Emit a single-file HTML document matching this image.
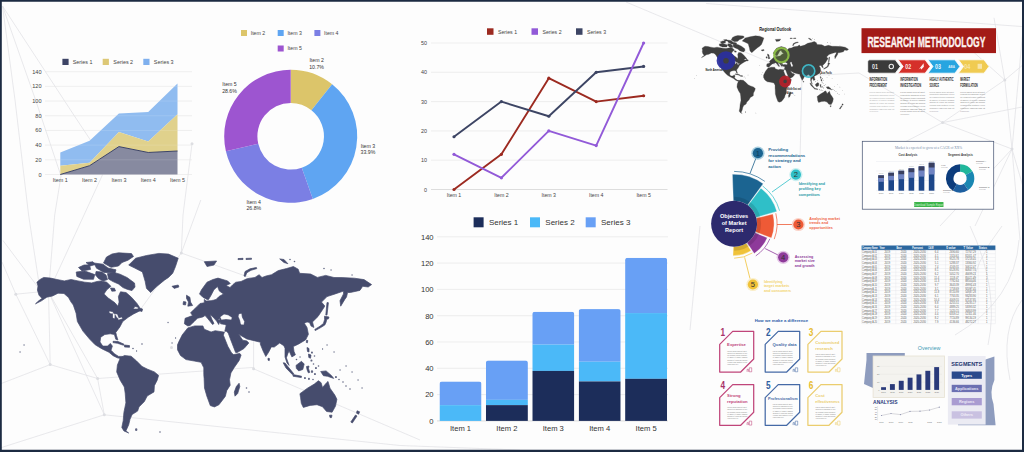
<!DOCTYPE html>
<html><head><meta charset="utf-8"><title>Charts</title>
<style>
html,body{margin:0;padding:0;background:#fdfdfd;}
body{width:1024px;height:452px;overflow:hidden;position:relative;font-family:"Liberation Sans",sans-serif;}
svg{position:absolute;left:0;top:0;display:block}
text{font-family:"Liberation Sans",sans-serif;}
</style></head><body>
<svg width="1024" height="452" viewBox="0 0 1024 452">
<rect x="0" y="0" width="1024" height="452" fill="#fdfdfd"/>
<g id="bg"><g fill="none" stroke="#dfe0e4" stroke-width="0.7"><line x1="2.5" y1="6" x2="73.8" y2="115"/><line x1="73.8" y1="115" x2="107" y2="165"/><line x1="107" y1="165" x2="84" y2="215"/><line x1="84" y1="215" x2="48.5" y2="292"/><line x1="2.5" y1="6" x2="35.6" y2="100"/><line x1="35.6" y1="100" x2="61" y2="176"/><line x1="61" y1="176" x2="54.7" y2="215"/><line x1="54.7" y1="215" x2="48.5" y2="292"/><line x1="2.5" y1="6" x2="15" y2="100"/><line x1="15" y1="100" x2="28.6" y2="215"/><line x1="28.6" y1="215" x2="40" y2="290"/><line x1="2.9" y1="240.4" x2="37.4" y2="286.4"/><line x1="15.8" y1="294.2" x2="38" y2="292"/><line x1="192" y1="143.8" x2="183" y2="215"/><line x1="183" y1="215" x2="181.3" y2="253"/><line x1="48.5" y1="292" x2="50.2" y2="364.6"/><line x1="48.5" y1="292" x2="97.6" y2="378.5"/><line x1="48.5" y1="292" x2="104.3" y2="414.8"/><line x1="15.8" y1="294.2" x2="50.2" y2="364.6"/><line x1="15.8" y1="294.2" x2="2" y2="262"/><line x1="50.2" y1="364.6" x2="97.6" y2="378.5"/><line x1="50.2" y1="364.6" x2="0" y2="384"/><line x1="97.6" y1="378.5" x2="104.3" y2="414.8"/><line x1="104.3" y1="414.8" x2="0" y2="448"/><line x1="104.3" y1="414.8" x2="400" y2="445.5"/><line x1="400" y1="445.5" x2="520" y2="450"/><line x1="97.6" y1="378.5" x2="253.8" y2="367.4"/><line x1="253.6" y1="330" x2="253.6" y2="368.8"/><line x1="253.6" y1="368.8" x2="420" y2="440"/><line x1="181.3" y1="253" x2="200.8" y2="200"/><line x1="181.3" y1="253" x2="290" y2="292"/><line x1="181.3" y1="253" x2="140" y2="310"/><line x1="626" y1="2" x2="802" y2="76"/><line x1="802" y1="76" x2="859" y2="73"/><line x1="802" y1="76" x2="800" y2="160"/><line x1="706" y1="3.5" x2="1024" y2="26.7"/><line x1="942.6" y1="122.6" x2="1024" y2="106.6"/><line x1="942.6" y1="122.6" x2="859" y2="73"/><line x1="942.6" y1="122.6" x2="1012" y2="149"/><line x1="942.6" y1="122.6" x2="870" y2="160"/><line x1="1004.8" y1="80" x2="1024" y2="64"/><line x1="1004.8" y1="80" x2="942.6" y2="122.6"/><line x1="1004.8" y1="80" x2="1012" y2="149"/><line x1="1004.8" y1="80" x2="994" y2="17.8"/><line x1="1004.8" y1="80" x2="960" y2="40"/><line x1="1012" y1="149" x2="1024" y2="17.8"/><line x1="1012" y1="149" x2="940" y2="226"/><line x1="1012" y1="149" x2="1020" y2="240"/><line x1="1012" y1="149" x2="975" y2="226"/><line x1="1012" y1="149" x2="1024" y2="190"/><line x1="700" y1="226" x2="690" y2="330"/><path d="M970,226 Q1000,290 988,345"/><path d="M1002,226 Q975,260 968,300"/><path d="M1019,240 Q1015,300 955,335"/><path d="M1022,300 Q1000,330 1010,380"/></g><g fill="#dddee2"><circle cx="107" cy="165" r="1.5"/><circle cx="192" cy="143.8" r="1.5"/><circle cx="15.8" cy="294.2" r="1.5"/><circle cx="50.2" cy="364.6" r="1.5"/><circle cx="97.6" cy="378.5" r="1.5"/><circle cx="104.3" cy="414.8" r="1.5"/><circle cx="253.6" cy="368.8" r="1.5"/><circle cx="181.3" cy="253" r="1.5"/><circle cx="802" cy="76" r="1.5"/><circle cx="942.6" cy="122.6" r="1.5"/><circle cx="1004.8" cy="80" r="1.5"/><circle cx="1012" cy="149" r="1.5"/><circle cx="171.5" cy="347.5" r="1.5"/></g></g>
<g id="area"><line x1="45" x2="192" y1="174.50" y2="174.50" stroke="#e6e6e6" stroke-width="0.6"/>
<text x="41.5" y="176.50" text-anchor="end" font-size="5.6" fill="#444">0</text>
<line x1="45" x2="192" y1="159.81" y2="159.81" stroke="#e6e6e6" stroke-width="0.6"/>
<text x="41.5" y="161.81" text-anchor="end" font-size="5.6" fill="#444">20</text>
<line x1="45" x2="192" y1="145.13" y2="145.13" stroke="#e6e6e6" stroke-width="0.6"/>
<text x="41.5" y="147.13" text-anchor="end" font-size="5.6" fill="#444">40</text>
<line x1="45" x2="192" y1="130.44" y2="130.44" stroke="#e6e6e6" stroke-width="0.6"/>
<text x="41.5" y="132.44" text-anchor="end" font-size="5.6" fill="#444">60</text>
<line x1="45" x2="192" y1="115.76" y2="115.76" stroke="#e6e6e6" stroke-width="0.6"/>
<text x="41.5" y="117.76" text-anchor="end" font-size="5.6" fill="#444">80</text>
<line x1="45" x2="192" y1="101.07" y2="101.07" stroke="#e6e6e6" stroke-width="0.6"/>
<text x="41.5" y="103.07" text-anchor="end" font-size="5.6" fill="#444">100</text>
<line x1="45" x2="192" y1="86.39" y2="86.39" stroke="#e6e6e6" stroke-width="0.6"/>
<text x="41.5" y="88.39" text-anchor="end" font-size="5.6" fill="#444">120</text>
<line x1="45" x2="192" y1="71.70" y2="71.70" stroke="#e6e6e6" stroke-width="0.6"/>
<text x="41.5" y="73.70" text-anchor="end" font-size="5.6" fill="#444">140</text>
<polygon points="60.30,152.47 89.60,140.72 118.90,113.55 148.20,112.09 177.50,83.45 177.50,114.29 148.20,141.46 118.90,131.91 89.60,162.75 60.30,165.69" fill="#90bcf0"/>
<polygon points="60.30,165.69 89.60,162.75 118.90,131.91 148.20,141.46 177.50,114.29 177.50,151.00 148.20,152.47 118.90,146.60 89.60,165.69 60.30,174.50" fill="#e0d18c"/>
<polygon points="60.30,174.50 89.60,165.69 118.90,146.60 148.20,152.47 177.50,151.00 177.50,174.50 148.20,174.50 118.90,174.50 89.60,174.50 60.30,174.50" fill="#878aa0"/>
<polyline points="60.30,174.50 89.60,165.69 118.90,146.60 148.20,152.47 177.50,151.00" fill="none" stroke="#3d4466" stroke-width="1"/>
<line x1="60.30" x2="177.50" y1="159.81" y2="159.81" stroke="#ffffff" stroke-opacity="0.22" stroke-width="0.6"/>
<line x1="60.30" x2="177.50" y1="145.13" y2="145.13" stroke="#ffffff" stroke-opacity="0.22" stroke-width="0.6"/>
<line x1="60.30" x2="177.50" y1="130.44" y2="130.44" stroke="#ffffff" stroke-opacity="0.22" stroke-width="0.6"/>
<line x1="60.30" x2="177.50" y1="115.76" y2="115.76" stroke="#ffffff" stroke-opacity="0.22" stroke-width="0.6"/>
<line x1="60.30" x2="177.50" y1="101.07" y2="101.07" stroke="#ffffff" stroke-opacity="0.22" stroke-width="0.6"/>
<line x1="60.30" x2="177.50" y1="86.39" y2="86.39" stroke="#ffffff" stroke-opacity="0.22" stroke-width="0.6"/>
<text x="60.30" y="182" text-anchor="middle" font-size="5.4" fill="#444">Item 1</text>
<text x="89.60" y="182" text-anchor="middle" font-size="5.4" fill="#444">Item 2</text>
<text x="118.90" y="182" text-anchor="middle" font-size="5.4" fill="#444">Item 3</text>
<text x="148.20" y="182" text-anchor="middle" font-size="5.4" fill="#444">Item 4</text>
<text x="177.50" y="182" text-anchor="middle" font-size="5.4" fill="#444">Item 5</text>
<rect x="62.4" y="58.8" width="6.2" height="6.2" fill="#3d4466"/>
<text x="72.7" y="63.8" font-size="5.4" fill="#444">Series 1</text>
<rect x="102.7" y="58.8" width="6.2" height="6.2" fill="#ddc876"/>
<text x="113.3" y="63.8" font-size="5.4" fill="#444">Series 2</text>
<rect x="143.3" y="58.8" width="6.2" height="6.2" fill="#7fb0ee"/>
<text x="153.8" y="63.8" font-size="5.4" fill="#444">Series 3</text></g>
<g id="donut"><path d="M290.70,69.80 A66.5,66.5 0 0 1 332.12,84.27 L311.44,110.25 A33.3,33.3 0 0 0 290.70,103.00 Z" fill="#dcc56a"/>
<path d="M332.12,84.27 A66.5,66.5 0 0 1 312.83,199.01 L301.78,167.70 A33.3,33.3 0 0 0 311.44,110.25 Z" fill="#5fa5f2"/>
<path d="M312.83,199.01 A66.5,66.5 0 0 1 225.89,151.21 L258.25,143.77 A33.3,33.3 0 0 0 301.78,167.70 Z" fill="#7b7fe4"/>
<path d="M225.89,151.21 A66.5,66.5 0 0 1 290.70,69.80 L290.70,103.00 A33.3,33.3 0 0 0 258.25,143.77 Z" fill="#9d55d0"/>
<rect x="241" y="30" width="6" height="6" fill="#dcc56a"/>
<text x="250.7" y="34.9" font-size="5.2" fill="#444">Item 2</text>
<rect x="277.7" y="30" width="6" height="6" fill="#5fa5f2"/>
<text x="287.4" y="34.9" font-size="5.2" fill="#444">Item 3</text>
<rect x="314.4" y="30" width="6" height="6" fill="#7b7fe4"/>
<text x="324.09999999999997" y="34.9" font-size="5.2" fill="#444">Item 4</text>
<rect x="277.7" y="45.5" width="6" height="6" fill="#9d55d0"/>
<text x="287.4" y="50.4" font-size="5.2" fill="#444">Item 5</text>
<text x="316.6" y="62.3" text-anchor="middle" font-size="5.2" fill="#333">Item 2</text>
<text x="316.6" y="68.8" text-anchor="middle" font-size="5.2" fill="#333">10.7%</text>
<text x="367.9" y="147.8" text-anchor="middle" font-size="5.2" fill="#333">Item 3</text>
<text x="367.9" y="154.3" text-anchor="middle" font-size="5.2" fill="#333">33.9%</text>
<text x="253.8" y="203.5" text-anchor="middle" font-size="5.2" fill="#333">Item 4</text>
<text x="253.8" y="210.0" text-anchor="middle" font-size="5.2" fill="#333">26.8%</text>
<text x="229.5" y="86.3" text-anchor="middle" font-size="5.2" fill="#333">Item 5</text>
<text x="229.5" y="92.8" text-anchor="middle" font-size="5.2" fill="#333">28.6%</text></g>
<g id="line"><line x1="431" x2="667.5" y1="189.50" y2="189.50" stroke="#cfcfcf" stroke-width="0.7"/>
<text x="427" y="191.50" text-anchor="end" font-size="5.4" fill="#444">0</text>
<line x1="431" x2="667.5" y1="160.20" y2="160.20" stroke="#e8e8e8" stroke-width="0.7"/>
<text x="427" y="162.20" text-anchor="end" font-size="5.4" fill="#444">10</text>
<line x1="431" x2="667.5" y1="130.90" y2="130.90" stroke="#e8e8e8" stroke-width="0.7"/>
<text x="427" y="132.90" text-anchor="end" font-size="5.4" fill="#444">20</text>
<line x1="431" x2="667.5" y1="101.60" y2="101.60" stroke="#e8e8e8" stroke-width="0.7"/>
<text x="427" y="103.60" text-anchor="end" font-size="5.4" fill="#444">30</text>
<line x1="431" x2="667.5" y1="72.30" y2="72.30" stroke="#e8e8e8" stroke-width="0.7"/>
<text x="427" y="74.30" text-anchor="end" font-size="5.4" fill="#444">40</text>
<line x1="431" x2="667.5" y1="43.00" y2="43.00" stroke="#e8e8e8" stroke-width="0.7"/>
<text x="427" y="45.00" text-anchor="end" font-size="5.4" fill="#444">50</text>
<text x="454.00" y="197" text-anchor="middle" font-size="5.2" fill="#444">Item 1</text>
<text x="501.40" y="197" text-anchor="middle" font-size="5.2" fill="#444">Item 2</text>
<text x="548.80" y="197" text-anchor="middle" font-size="5.2" fill="#444">Item 3</text>
<text x="596.20" y="197" text-anchor="middle" font-size="5.2" fill="#444">Item 4</text>
<text x="643.60" y="197" text-anchor="middle" font-size="5.2" fill="#444">Item 5</text>
<polyline points="454.00,189.50 501.40,154.34 548.80,78.16 596.20,101.60 643.60,95.74" fill="none" stroke="#9c2a20" stroke-width="1.9" stroke-linejoin="round"/>
<circle cx="454.00" cy="189.50" r="1.6" fill="#9c2a20"/>
<circle cx="501.40" cy="154.34" r="1.6" fill="#9c2a20"/>
<circle cx="548.80" cy="78.16" r="1.6" fill="#9c2a20"/>
<circle cx="596.20" cy="101.60" r="1.6" fill="#9c2a20"/>
<circle cx="643.60" cy="95.74" r="1.6" fill="#9c2a20"/>
<polyline points="454.00,136.76 501.40,101.60 548.80,116.25 596.20,72.30 643.60,66.44" fill="none" stroke="#3d4564" stroke-width="1.9" stroke-linejoin="round"/>
<circle cx="454.00" cy="136.76" r="1.6" fill="#3d4564"/>
<circle cx="501.40" cy="101.60" r="1.6" fill="#3d4564"/>
<circle cx="548.80" cy="116.25" r="1.6" fill="#3d4564"/>
<circle cx="596.20" cy="72.30" r="1.6" fill="#3d4564"/>
<circle cx="643.60" cy="66.44" r="1.6" fill="#3d4564"/>
<polyline points="454.00,154.34 501.40,177.78 548.80,130.90 596.20,145.55 643.60,43.00" fill="none" stroke="#925ad8" stroke-width="1.9" stroke-linejoin="round"/>
<circle cx="454.00" cy="154.34" r="1.6" fill="#925ad8"/>
<circle cx="501.40" cy="177.78" r="1.6" fill="#925ad8"/>
<circle cx="548.80" cy="130.90" r="1.6" fill="#925ad8"/>
<circle cx="596.20" cy="145.55" r="1.6" fill="#925ad8"/>
<circle cx="643.60" cy="43.00" r="1.6" fill="#925ad8"/>
<rect x="487" y="28.3" width="6.5" height="6.5" fill="#9c2a20"/>
<text x="498" y="33.6" font-size="5.2" fill="#444">Series 1</text>
<rect x="531.5" y="28.3" width="6.5" height="6.5" fill="#925ad8"/>
<text x="542.5" y="33.6" font-size="5.2" fill="#444">Series 2</text>
<rect x="576" y="28.3" width="6.5" height="6.5" fill="#3d4564"/>
<text x="587" y="33.6" font-size="5.2" fill="#444">Series 3</text></g>
<g id="bar"><line x1="437" x2="668" y1="420.90" y2="420.90" stroke="#cfcfcf" stroke-width="0.7"/>
<text x="433.6" y="423.70" text-anchor="end" font-size="7.6" fill="#333">0</text>
<line x1="437" x2="668" y1="394.60" y2="394.60" stroke="#e6e6e6" stroke-width="0.7"/>
<text x="433.6" y="397.40" text-anchor="end" font-size="7.6" fill="#333">20</text>
<line x1="437" x2="668" y1="368.30" y2="368.30" stroke="#e6e6e6" stroke-width="0.7"/>
<text x="433.6" y="371.10" text-anchor="end" font-size="7.6" fill="#333">40</text>
<line x1="437" x2="668" y1="342.00" y2="342.00" stroke="#e6e6e6" stroke-width="0.7"/>
<text x="433.6" y="344.80" text-anchor="end" font-size="7.6" fill="#333">60</text>
<line x1="437" x2="668" y1="315.70" y2="315.70" stroke="#e6e6e6" stroke-width="0.7"/>
<text x="433.6" y="318.50" text-anchor="end" font-size="7.6" fill="#333">80</text>
<line x1="437" x2="668" y1="289.40" y2="289.40" stroke="#e6e6e6" stroke-width="0.7"/>
<text x="433.6" y="292.20" text-anchor="end" font-size="7.6" fill="#333">100</text>
<line x1="437" x2="668" y1="263.10" y2="263.10" stroke="#e6e6e6" stroke-width="0.7"/>
<text x="433.6" y="265.90" text-anchor="end" font-size="7.6" fill="#333">120</text>
<line x1="437" x2="668" y1="236.80" y2="236.80" stroke="#e6e6e6" stroke-width="0.7"/>
<text x="433.6" y="239.60" text-anchor="end" font-size="7.6" fill="#333">140</text>
<clipPath id="bc0"><rect x="439.5" y="381.45" width="42" height="44.45" rx="2.5"/></clipPath>
<g clip-path="url(#bc0)">
<rect x="439.5" y="381.45" width="42" height="23.67" fill="#68a0f5"/>
<rect x="439.5" y="405.12" width="42" height="15.78" fill="#4bb9f8"/>
<rect x="439.5" y="420.90" width="42" height="0.00" fill="#1c2d5a"/>
</g>
<text x="460.50" y="431" text-anchor="middle" font-size="7.6" fill="#333">Item 1</text>
<clipPath id="bc1"><rect x="485.9" y="360.41" width="42" height="65.49" rx="2.5"/></clipPath>
<g clip-path="url(#bc1)">
<rect x="485.9" y="360.41" width="42" height="39.45" fill="#68a0f5"/>
<rect x="485.9" y="399.86" width="42" height="5.26" fill="#4bb9f8"/>
<rect x="485.9" y="405.12" width="42" height="15.78" fill="#1c2d5a"/>
</g>
<text x="506.90" y="431" text-anchor="middle" font-size="7.6" fill="#333">Item 2</text>
<clipPath id="bc2"><rect x="532.3" y="311.75" width="42" height="114.14" rx="2.5"/></clipPath>
<g clip-path="url(#bc2)">
<rect x="532.3" y="311.75" width="42" height="32.88" fill="#68a0f5"/>
<rect x="532.3" y="344.63" width="42" height="26.30" fill="#4bb9f8"/>
<rect x="532.3" y="370.93" width="42" height="49.97" fill="#1c2d5a"/>
</g>
<text x="553.30" y="431" text-anchor="middle" font-size="7.6" fill="#333">Item 3</text>
<clipPath id="bc3"><rect x="578.7" y="309.12" width="42" height="116.77" rx="2.5"/></clipPath>
<g clip-path="url(#bc3)">
<rect x="578.7" y="309.12" width="42" height="52.60" fill="#68a0f5"/>
<rect x="578.7" y="361.72" width="42" height="19.73" fill="#4bb9f8"/>
<rect x="578.7" y="381.45" width="42" height="39.45" fill="#1c2d5a"/>
</g>
<text x="599.70" y="431" text-anchor="middle" font-size="7.6" fill="#333">Item 4</text>
<clipPath id="bc4"><rect x="625.1" y="257.84" width="42" height="168.06" rx="2.5"/></clipPath>
<g clip-path="url(#bc4)">
<rect x="625.1" y="257.84" width="42" height="55.23" fill="#68a0f5"/>
<rect x="625.1" y="313.07" width="42" height="65.75" fill="#4bb9f8"/>
<rect x="625.1" y="378.82" width="42" height="42.08" fill="#1c2d5a"/>
</g>
<text x="646.10" y="431" text-anchor="middle" font-size="7.6" fill="#333">Item 5</text>
<rect x="473.6" y="217.3" width="10" height="10" fill="#1c2d5a"/>
<text x="488.90000000000003" y="225.3" font-size="8" fill="#333">Series 1</text>
<rect x="530" y="217.3" width="10" height="10" fill="#4bb9f8"/>
<text x="545.3" y="225.3" font-size="8" fill="#333">Series 2</text>
<rect x="585.7" y="217.3" width="10" height="10" fill="#68a0f5"/>
<text x="601.0" y="225.3" font-size="8" fill="#333">Series 3</text></g>
<g color="#464c6d"><path d="M36.9,282.2 L40.0,279.5 L43.7,277.4 L50.6,278.1 L57.0,279.5 L64.3,280.9 L71.1,279.5 L78.0,280.9 L84.8,282.2 L91.7,282.9 L97.0,281.5 L101.3,280.9 L106.8,282.2 L110.9,286.3 L106.8,289.8 L104.0,293.9 L108.2,298.0 L115.0,302.8 L117.8,306.2 L119.1,302.1 L118.4,296.6 L120.5,291.8 L126.0,292.5 L131.5,297.3 L137.0,303.5 L139.7,307.6 L135.0,306.5 L133.0,309.0 L137.8,309.1 L140.5,310.5 L133.6,313.9 L128.2,317.3 L122.7,321.5 L119.9,326.9 L115.8,332.4 L116.5,335.5 L117.9,340.0 L115.8,339.3 L114.4,334.5 L110.3,333.8 L104.8,334.5 L100.7,337.2 L100.0,342.0 L102.8,346.1 L107.6,346.1 L110.3,343.4 L112.4,346.1 L111.0,350.2 L114.4,353.7 L118.6,356.4 L122.7,356.4 L120.5,358.5 L117.2,357.8 L113.1,355.7 L109.0,352.3 L102.1,348.9 L95.2,344.8 L89.8,339.3 L82.9,331.1 L77.4,321.5 L76.1,313.2 L73.3,305.0 L71.1,302.1 L68.5,297.5 L64.0,293.5 L58.0,293.2 L52.5,296.0 L46.8,297.2 L41.5,300.8 L35.5,303.8 L39.0,300.6 L42.0,298.4 L39.0,295.2 L37.4,290.0 L38.0,286.0ZM128.7,265.1 L135.6,258.2 L146.5,255.5 L158.9,253.4 L168.5,254.1 L178.2,258.2 L175.5,266.5 L172.7,273.3 L168.5,277.4 L164.4,280.2 L156.1,287.0 L150.7,292.5 L146.5,288.4 L145.2,281.5 L142.4,271.9 L134.2,267.8ZM107.5,273.6 L114.0,272.4 L120.0,274.2 L127.0,277.5 L134.5,283.0 L135.0,287.0 L132.0,290.6 L127.5,289.4 L123.0,287.6 L118.5,284.0 L113.0,281.6 L108.5,279.0ZM110.5,288.0 L114.5,288.3 L115.5,291.0 L111.8,291.2ZM96.0,271.5 L102.0,272.0 L106.0,275.0 L107.5,279.5 L103.0,281.0 L98.5,278.5 L95.5,275.0ZM86.0,262.5 L93.0,261.8 L95.5,264.5 L90.0,266.0ZM106.5,257.0 L112.0,254.0 L118.5,252.8 L131.5,253.6 L133.5,256.5 L128.0,260.2 L122.0,262.5 L118.5,266.0 L111.0,267.3 L103.5,263.0ZM76.2,272.0 L84.8,271.0 L94.8,274.6 L93.5,279.3 L83.5,279.2 L76.8,276.4ZM78.5,267.5 L84.0,265.0 L89.5,264.8 L90.6,269.4 L82.1,271.0ZM94.0,263.0 L103.0,264.2 L108.0,268.0 L116.0,269.8 L115.0,273.0 L104.0,272.4 L96.5,268.2ZM138.0,307.5 L142.5,309.0 L142.0,311.5 L138.5,310.5ZM113.1,341.3 L118.0,341.5 L124.0,344.2 L123.5,345.3 L117.5,343.3 L113.0,342.6ZM124.5,345.0 L129.5,345.6 L129.5,347.3 L124.5,347.0ZM120.2,358.2 L124.3,355.5 L131.1,356.2 L136.6,361.0 L142.1,366.5 L147.6,369.2 L154.4,371.9 L158.6,375.4 L157.2,380.2 L154.4,385.7 L154.0,391.9 L147.2,396.0 L144.4,401.5 L139.0,406.9 L137.6,411.1 L132.1,414.5 L130.0,419.3 L128.7,424.8 L125.9,430.9 L128.7,433.0 L123.9,430.9 L121.8,427.5 L123.2,420.7 L123.9,412.4 L125.9,402.8 L125.2,393.2 L124.3,387.0 L120.2,380.2 L116.7,371.9 L117.4,365.1ZM184.4,323.8 L185.1,318.3 L190.0,316.5 L192.6,315.6 L190.6,312.8 L193.3,310.1 L197.4,306.2 L200.0,303.5 L204.3,302.8 L204.3,299.4 L206.0,301.0 L211.1,300.7 L216.0,299.5 L219.0,296.5 L223.5,293.9 L219.4,291.1 L217.5,286.5 L213.9,289.8 L211.1,295.2 L208.5,299.6 L207.0,299.4 L202.9,297.3 L199.5,293.9 L201.5,289.8 L207.0,282.2 L213.0,279.5 L218.0,278.1 L227.6,280.9 L230.3,283.6 L226.0,285.5 L230.0,287.5 L233.0,284.5 L235.8,282.2 L241.0,281.5 L246.8,278.8 L255.0,277.4 L259.1,274.7 L262.0,277.5 L266.0,276.0 L271.5,274.7 L278.3,270.6 L286.6,268.5 L293.4,266.5 L298.2,269.2 L299.6,273.3 L310.6,274.0 L317.4,277.4 L325.7,275.4 L334.0,277.5 L342.1,277.6 L354.4,278.2 L364.0,279.6 L371.6,284.6 L368.2,287.0 L362.7,286.3 L359.9,290.4 L350.3,292.5 L347.6,292.5 L346.5,297.0 L344.8,299.4 L340.7,306.2 L340.0,300.7 L343.5,293.9 L343.5,291.1 L335.2,293.9 L327.0,296.6 L321.5,302.1 L324.8,306.0 L323.5,308.2 L318.0,316.5 L312.5,321.9 L313.9,327.4 L311.1,326.1 L309.5,322.5 L307.0,321.9 L304.3,323.3 L307.0,327.4 L308.4,334.3 L305.7,339.8 L298.8,343.9 L293.3,346.6 L294.0,351.4 L295.4,354.8 L291.9,356.9 L289.1,351.0 L287.8,353.7 L286.4,357.8 L289.1,365.4 L287.0,363.0 L285.0,357.0 L285.0,348.2 L283.8,345.7 L279.7,343.0 L274.2,347.1 L271.3,346.9 L268.6,352.3 L265.8,356.5 L263.1,351.0 L260.3,344.1 L260.5,342.3 L255.0,340.9 L246.8,338.9 L240.0,335.0 L238.6,334.1 L242.7,340.2 L246.8,340.9 L248.8,343.0 L244.0,348.5 L237.2,352.6 L235.6,352.4 L230.8,340.0 L228.2,333.0 L226.4,331.2 L224.8,331.3 L226.2,325.2 L224.8,324.5 L220.7,323.8 L219.4,320.4 L220.0,318.5 L218.0,319.5 L220.0,321.1 L218.7,324.5 L216.6,321.1 L213.0,317.0 L210.0,314.5 L212.0,319.5 L214.0,323.5 L212.5,324.5 L209.8,321.1 L206.5,317.0 L205.0,315.6 L202.9,316.9 L197.4,318.3 L194.0,321.7 L190.0,325.5 L187.8,325.9ZM187.8,327.9 L194.7,325.9 L202.9,325.9 L204.3,329.3 L211.1,332.0 L215.2,330.7 L223.5,332.0 L224.4,332.0 L223.4,335.2 L227.8,346.2 L231.6,353.0 L233.6,354.6 L239.8,353.4 L241.1,355.1 L239.1,360.6 L234.3,367.4 L230.9,372.9 L229.5,379.8 L230.2,385.2 L226.7,390.7 L225.4,396.2 L223.0,399.4 L218.9,404.8 L214.4,406.9 L210.3,405.6 L206.8,396.0 L204.5,388.0 L204.1,378.4 L203.8,374.7 L203.8,367.8 L201.1,362.3 L194.2,361.0 L186.0,359.6 L180.5,355.5 L177.5,349.8 L177.5,344.8 L178.9,341.6 L182.3,334.8ZM239.1,383.2 L239.8,386.6 L237.7,393.5 L235.0,396.2 L234.3,392.1 L236.3,386.6ZM299.9,393.7 L307.4,388.2 L314.3,384.1 L318.4,380.7 L321.1,382.7 L322.5,387.5 L326.6,382.7 L328.0,381.4 L330.0,388.2 L334.8,395.1 L336.9,399.2 L335.5,406.1 L332.1,412.2 L326.6,411.5 L322.5,406.7 L317.0,404.7 L310.2,405.4 L303.3,407.4 L301.3,403.3 L300.6,397.8ZM186.5,295.2 L189.9,297.3 L190.6,302.1 L192.6,305.5 L187.8,306.2 L188.5,302.0 L186.5,298.5ZM183.5,301.5 L186.0,302.0 L185.5,305.0 L183.0,304.5ZM172.0,286.3 L178.2,285.0 L178.9,287.0 L174.1,288.4ZM204.3,261.7 L216.6,261.0 L213.9,265.1 L207.0,266.5ZM244.0,276.0 L245.0,271.5 L250.0,268.8 L256.4,267.5 L256.8,268.6 L251.0,270.3 L246.8,272.8 L245.3,276.5ZM279.7,258.9 L284.0,259.5 L287.9,263.7 L284.0,262.5ZM238.0,258.6 L243.0,258.3 L243.0,259.5 L238.0,259.6ZM246.0,258.4 L251.5,258.2 L251.5,259.3 L246.0,259.5ZM324.5,316.2 L329.0,317.0 L328.5,318.8 L326.8,319.2 L326.0,322.5 L324.8,325.0 L320.7,327.6 L315.2,330.6 L314.8,329.4 L320.0,326.2 L323.4,323.5 L324.6,319.5ZM327.0,302.5 L328.4,302.7 L327.0,315.1 L325.8,315.0ZM306.5,340.3 L307.8,340.5 L307.4,342.8 L306.3,342.5ZM307.0,347.5 L309.0,348.5 L309.0,352.0 L307.5,351.5ZM308.5,354.0 L311.0,355.0 L310.5,358.2 L308.8,357.5ZM268.0,358.2 L269.5,358.6 L269.3,360.6 L268.0,360.2ZM283.2,362.8 L285.0,363.0 L293.8,373.8 L292.6,374.8 L286.0,368.0ZM293.2,374.6 L301.5,376.2 L301.3,377.6 L293.0,376.2ZM296.0,365.4 L301.5,361.3 L304.2,364.0 L302.8,369.5 L298.7,370.9 L296.4,368.5ZM306.5,366.5 L309.0,366.0 L308.5,368.5 L309.7,372.5 L308.3,372.8 L307.0,369.5ZM320.7,371.5 L326.1,370.9 L331.6,375.7 L333.7,378.4 L327.5,376.3 L323.4,375.7ZM329.5,415.2 L332.0,415.2 L331.5,417.6 L330.0,417.6ZM357.0,410.8 L359.6,411.8 L358.6,414.2 L356.6,413.2ZM355.5,415.0 L357.0,416.0 L352.3,423.0 L350.8,422.0Z" fill="currentColor" stroke="currentColor" stroke-width="0.7" stroke-linejoin="round"/><path d="M311.0,352.5a0.96,0.96 0 1 0 1.9,0a0.96,0.96 0 1 0 -1.9,0ZM313.7,356.0a0.80,0.80 0 1 0 1.6,0a0.80,0.80 0 1 0 -1.6,0ZM310.5,360.5a0.96,0.96 0 1 0 1.9,0a0.96,0.96 0 1 0 -1.9,0ZM312.7,364.0a0.80,0.80 0 1 0 1.6,0a0.80,0.80 0 1 0 -1.6,0ZM315.0,368.0a0.96,0.96 0 1 0 1.9,0a0.96,0.96 0 1 0 -1.9,0ZM317.7,366.0a0.80,0.80 0 1 0 1.6,0a0.80,0.80 0 1 0 -1.6,0ZM310.9,371.5a1.12,1.12 0 1 0 2.2,0a1.12,1.12 0 1 0 -2.2,0ZM314.0,374.0a0.96,0.96 0 1 0 1.9,0a0.96,0.96 0 1 0 -1.9,0ZM304.0,378.0a0.96,0.96 0 1 0 1.9,0a0.96,0.96 0 1 0 -1.9,0ZM308.0,378.8a0.96,0.96 0 1 0 1.9,0a0.96,0.96 0 1 0 -1.9,0ZM312.2,379.5a0.80,0.80 0 1 0 1.6,0a0.80,0.80 0 1 0 -1.6,0ZM335.0,377.0a0.96,0.96 0 1 0 1.9,0a0.96,0.96 0 1 0 -1.9,0ZM338.2,379.5a0.80,0.80 0 1 0 1.6,0a0.80,0.80 0 1 0 -1.6,0ZM342.2,382.0a0.80,0.80 0 1 0 1.6,0a0.80,0.80 0 1 0 -1.6,0ZM345.2,386.0a0.80,0.80 0 1 0 1.6,0a0.80,0.80 0 1 0 -1.6,0ZM349.2,389.0a0.80,0.80 0 1 0 1.6,0a0.80,0.80 0 1 0 -1.6,0ZM339.4,370.0a0.64,0.64 0 1 0 1.3,0a0.64,0.64 0 1 0 -1.3,0ZM345.4,366.0a0.64,0.64 0 1 0 1.3,0a0.64,0.64 0 1 0 -1.3,0ZM351.4,372.0a0.64,0.64 0 1 0 1.3,0a0.64,0.64 0 1 0 -1.3,0ZM357.4,380.0a0.64,0.64 0 1 0 1.3,0a0.64,0.64 0 1 0 -1.3,0ZM361.4,388.0a0.64,0.64 0 1 0 1.3,0a0.64,0.64 0 1 0 -1.3,0ZM326.4,345.0a0.64,0.64 0 1 0 1.3,0a0.64,0.64 0 1 0 -1.3,0ZM333.4,352.0a0.64,0.64 0 1 0 1.3,0a0.64,0.64 0 1 0 -1.3,0ZM141.2,344.0a0.80,0.80 0 1 0 1.6,0a0.80,0.80 0 1 0 -1.6,0ZM132.2,348.5a0.80,0.80 0 1 0 1.6,0a0.80,0.80 0 1 0 -1.6,0ZM135.9,351.0a0.64,0.64 0 1 0 1.3,0a0.64,0.64 0 1 0 -1.3,0ZM135.1,429.6a1.12,1.12 0 1 0 2.2,0a1.12,1.12 0 1 0 -2.2,0ZM159.2,432.0a0.80,0.80 0 1 0 1.6,0a0.80,0.80 0 1 0 -1.6,0ZM245.7,388.0a0.80,0.80 0 1 0 1.6,0a0.80,0.80 0 1 0 -1.6,0ZM248.2,392.0a0.80,0.80 0 1 0 1.6,0a0.80,0.80 0 1 0 -1.6,0ZM171.4,343.0a0.64,0.64 0 1 0 1.3,0a0.64,0.64 0 1 0 -1.3,0ZM174.9,338.0a0.64,0.64 0 1 0 1.3,0a0.64,0.64 0 1 0 -1.3,0ZM167.4,322.5a0.64,0.64 0 1 0 1.3,0a0.64,0.64 0 1 0 -1.3,0ZM321.9,349.0a0.64,0.64 0 1 0 1.3,0a0.64,0.64 0 1 0 -1.3,0ZM295.7,359.5a0.80,0.80 0 1 0 1.6,0a0.80,0.80 0 1 0 -1.6,0ZM299.4,357.0a0.64,0.64 0 1 0 1.3,0a0.64,0.64 0 1 0 -1.3,0ZM19.4,352.0a0.64,0.64 0 1 0 1.3,0a0.64,0.64 0 1 0 -1.3,0ZM23.4,345.0a0.64,0.64 0 1 0 1.3,0a0.64,0.64 0 1 0 -1.3,0ZM289.2,259.5a0.80,0.80 0 1 0 1.6,0a0.80,0.80 0 1 0 -1.6,0ZM293.7,261.5a0.80,0.80 0 1 0 1.6,0a0.80,0.80 0 1 0 -1.6,0ZM323.2,268.5a0.80,0.80 0 1 0 1.6,0a0.80,0.80 0 1 0 -1.6,0ZM330.4,270.0a0.64,0.64 0 1 0 1.3,0a0.64,0.64 0 1 0 -1.3,0ZM351.4,275.0a0.64,0.64 0 1 0 1.3,0a0.64,0.64 0 1 0 -1.3,0Z" fill="currentColor" fill-opacity="0.85"/><path d="M220.5,317.0 L224.0,314.6 L228.0,315.2 L231.7,317.6 L231.2,319.4 L226.0,319.0 L221.5,319.4ZM239.0,314.2 L241.3,313.8 L242.0,317.5 L244.2,321.5 L243.6,324.5 L241.0,324.3 L240.0,320.0 L238.6,316.8ZM109.5,311.6 L113.0,312.2 L112.5,313.6 L109.8,313.0ZM113.0,313.5 L114.6,314.0 L114.4,318.2 L113.0,317.8ZM115.2,314.0 L117.2,314.6 L118.6,318.2 L117.0,317.6ZM118.0,318.6 L121.8,317.6 L122.2,318.6 L118.6,319.6ZM211.5,297.5 L214.5,294.0 L217.0,296.0 L213.5,299.3Z" fill="#fbfbfc" stroke="#fbfbfc" stroke-width="0.3" stroke-linejoin="round"/></g>
<g id="smap"><text transform="translate(775.20,30.50) scale(0.6903,1)" text-anchor="middle" font-size="5.6" font-weight="bold" fill="#111">Regional Outlook</text>
<g transform="translate(685.9,-73.6) scale(0.4376,0.432)" color="#3f3f3f"><path d="M36.9,282.2 L40.0,279.5 L43.7,277.4 L50.6,278.1 L57.0,279.5 L64.3,280.9 L71.1,279.5 L78.0,280.9 L84.8,282.2 L91.7,282.9 L97.0,281.5 L101.3,280.9 L106.8,282.2 L110.9,286.3 L106.8,289.8 L104.0,293.9 L108.2,298.0 L115.0,302.8 L117.8,306.2 L119.1,302.1 L118.4,296.6 L120.5,291.8 L126.0,292.5 L131.5,297.3 L137.0,303.5 L139.7,307.6 L135.0,306.5 L133.0,309.0 L137.8,309.1 L140.5,310.5 L133.6,313.9 L128.2,317.3 L122.7,321.5 L119.9,326.9 L115.8,332.4 L116.5,335.5 L117.9,340.0 L115.8,339.3 L114.4,334.5 L110.3,333.8 L104.8,334.5 L100.7,337.2 L100.0,342.0 L102.8,346.1 L107.6,346.1 L110.3,343.4 L112.4,346.1 L111.0,350.2 L114.4,353.7 L118.6,356.4 L122.7,356.4 L120.5,358.5 L117.2,357.8 L113.1,355.7 L109.0,352.3 L102.1,348.9 L95.2,344.8 L89.8,339.3 L82.9,331.1 L77.4,321.5 L76.1,313.2 L73.3,305.0 L71.1,302.1 L68.5,297.5 L64.0,293.5 L58.0,293.2 L52.5,296.0 L46.8,297.2 L41.5,300.8 L35.5,303.8 L39.0,300.6 L42.0,298.4 L39.0,295.2 L37.4,290.0 L38.0,286.0ZM128.7,265.1 L135.6,258.2 L146.5,255.5 L158.9,253.4 L168.5,254.1 L178.2,258.2 L175.5,266.5 L172.7,273.3 L168.5,277.4 L164.4,280.2 L156.1,287.0 L150.7,292.5 L146.5,288.4 L145.2,281.5 L142.4,271.9 L134.2,267.8ZM107.5,273.6 L114.0,272.4 L120.0,274.2 L127.0,277.5 L134.5,283.0 L135.0,287.0 L132.0,290.6 L127.5,289.4 L123.0,287.6 L118.5,284.0 L113.0,281.6 L108.5,279.0ZM110.5,288.0 L114.5,288.3 L115.5,291.0 L111.8,291.2ZM96.0,271.5 L102.0,272.0 L106.0,275.0 L107.5,279.5 L103.0,281.0 L98.5,278.5 L95.5,275.0ZM86.0,262.5 L93.0,261.8 L95.5,264.5 L90.0,266.0ZM106.5,257.0 L112.0,254.0 L118.5,252.8 L131.5,253.6 L133.5,256.5 L128.0,260.2 L122.0,262.5 L118.5,266.0 L111.0,267.3 L103.5,263.0ZM76.2,272.0 L84.8,271.0 L94.8,274.6 L93.5,279.3 L83.5,279.2 L76.8,276.4ZM78.5,267.5 L84.0,265.0 L89.5,264.8 L90.6,269.4 L82.1,271.0ZM94.0,263.0 L103.0,264.2 L108.0,268.0 L116.0,269.8 L115.0,273.0 L104.0,272.4 L96.5,268.2ZM138.0,307.5 L142.5,309.0 L142.0,311.5 L138.5,310.5ZM113.1,341.3 L118.0,341.5 L124.0,344.2 L123.5,345.3 L117.5,343.3 L113.0,342.6ZM124.5,345.0 L129.5,345.6 L129.5,347.3 L124.5,347.0ZM120.2,358.2 L124.3,355.5 L131.1,356.2 L136.6,361.0 L142.1,366.5 L147.6,369.2 L154.4,371.9 L158.6,375.4 L157.2,380.2 L154.4,385.7 L154.0,391.9 L147.2,396.0 L144.4,401.5 L139.0,406.9 L137.6,411.1 L132.1,414.5 L130.0,419.3 L128.7,424.8 L125.9,430.9 L128.7,433.0 L123.9,430.9 L121.8,427.5 L123.2,420.7 L123.9,412.4 L125.9,402.8 L125.2,393.2 L124.3,387.0 L120.2,380.2 L116.7,371.9 L117.4,365.1ZM184.4,323.8 L185.1,318.3 L190.0,316.5 L192.6,315.6 L190.6,312.8 L193.3,310.1 L197.4,306.2 L200.0,303.5 L204.3,302.8 L204.3,299.4 L206.0,301.0 L211.1,300.7 L216.0,299.5 L219.0,296.5 L223.5,293.9 L219.4,291.1 L217.5,286.5 L213.9,289.8 L211.1,295.2 L208.5,299.6 L207.0,299.4 L202.9,297.3 L199.5,293.9 L201.5,289.8 L207.0,282.2 L213.0,279.5 L218.0,278.1 L227.6,280.9 L230.3,283.6 L226.0,285.5 L230.0,287.5 L233.0,284.5 L235.8,282.2 L241.0,281.5 L246.8,278.8 L255.0,277.4 L259.1,274.7 L262.0,277.5 L266.0,276.0 L271.5,274.7 L278.3,270.6 L286.6,268.5 L293.4,266.5 L298.2,269.2 L299.6,273.3 L310.6,274.0 L317.4,277.4 L325.7,275.4 L334.0,277.5 L342.1,277.6 L354.4,278.2 L364.0,279.6 L371.6,284.6 L368.2,287.0 L362.7,286.3 L359.9,290.4 L350.3,292.5 L347.6,292.5 L346.5,297.0 L344.8,299.4 L340.7,306.2 L340.0,300.7 L343.5,293.9 L343.5,291.1 L335.2,293.9 L327.0,296.6 L321.5,302.1 L324.8,306.0 L323.5,308.2 L318.0,316.5 L312.5,321.9 L313.9,327.4 L311.1,326.1 L309.5,322.5 L307.0,321.9 L304.3,323.3 L307.0,327.4 L308.4,334.3 L305.7,339.8 L298.8,343.9 L293.3,346.6 L294.0,351.4 L295.4,354.8 L291.9,356.9 L289.1,351.0 L287.8,353.7 L286.4,357.8 L289.1,365.4 L287.0,363.0 L285.0,357.0 L285.0,348.2 L283.8,345.7 L279.7,343.0 L274.2,347.1 L271.3,346.9 L268.6,352.3 L265.8,356.5 L263.1,351.0 L260.3,344.1 L260.5,342.3 L255.0,340.9 L246.8,338.9 L240.0,335.0 L238.6,334.1 L242.7,340.2 L246.8,340.9 L248.8,343.0 L244.0,348.5 L237.2,352.6 L235.6,352.4 L230.8,340.0 L228.2,333.0 L226.4,331.2 L224.8,331.3 L226.2,325.2 L224.8,324.5 L220.7,323.8 L219.4,320.4 L220.0,318.5 L218.0,319.5 L220.0,321.1 L218.7,324.5 L216.6,321.1 L213.0,317.0 L210.0,314.5 L212.0,319.5 L214.0,323.5 L212.5,324.5 L209.8,321.1 L206.5,317.0 L205.0,315.6 L202.9,316.9 L197.4,318.3 L194.0,321.7 L190.0,325.5 L187.8,325.9ZM187.8,327.9 L194.7,325.9 L202.9,325.9 L204.3,329.3 L211.1,332.0 L215.2,330.7 L223.5,332.0 L224.4,332.0 L223.4,335.2 L227.8,346.2 L231.6,353.0 L233.6,354.6 L239.8,353.4 L241.1,355.1 L239.1,360.6 L234.3,367.4 L230.9,372.9 L229.5,379.8 L230.2,385.2 L226.7,390.7 L225.4,396.2 L223.0,399.4 L218.9,404.8 L214.4,406.9 L210.3,405.6 L206.8,396.0 L204.5,388.0 L204.1,378.4 L203.8,374.7 L203.8,367.8 L201.1,362.3 L194.2,361.0 L186.0,359.6 L180.5,355.5 L177.5,349.8 L177.5,344.8 L178.9,341.6 L182.3,334.8ZM239.1,383.2 L239.8,386.6 L237.7,393.5 L235.0,396.2 L234.3,392.1 L236.3,386.6ZM299.9,393.7 L307.4,388.2 L314.3,384.1 L318.4,380.7 L321.1,382.7 L322.5,387.5 L326.6,382.7 L328.0,381.4 L330.0,388.2 L334.8,395.1 L336.9,399.2 L335.5,406.1 L332.1,412.2 L326.6,411.5 L322.5,406.7 L317.0,404.7 L310.2,405.4 L303.3,407.4 L301.3,403.3 L300.6,397.8ZM186.5,295.2 L189.9,297.3 L190.6,302.1 L192.6,305.5 L187.8,306.2 L188.5,302.0 L186.5,298.5ZM183.5,301.5 L186.0,302.0 L185.5,305.0 L183.0,304.5ZM172.0,286.3 L178.2,285.0 L178.9,287.0 L174.1,288.4ZM204.3,261.7 L216.6,261.0 L213.9,265.1 L207.0,266.5ZM244.0,276.0 L245.0,271.5 L250.0,268.8 L256.4,267.5 L256.8,268.6 L251.0,270.3 L246.8,272.8 L245.3,276.5ZM279.7,258.9 L284.0,259.5 L287.9,263.7 L284.0,262.5ZM238.0,258.6 L243.0,258.3 L243.0,259.5 L238.0,259.6ZM246.0,258.4 L251.5,258.2 L251.5,259.3 L246.0,259.5ZM324.5,316.2 L329.0,317.0 L328.5,318.8 L326.8,319.2 L326.0,322.5 L324.8,325.0 L320.7,327.6 L315.2,330.6 L314.8,329.4 L320.0,326.2 L323.4,323.5 L324.6,319.5ZM327.0,302.5 L328.4,302.7 L327.0,315.1 L325.8,315.0ZM306.5,340.3 L307.8,340.5 L307.4,342.8 L306.3,342.5ZM307.0,347.5 L309.0,348.5 L309.0,352.0 L307.5,351.5ZM308.5,354.0 L311.0,355.0 L310.5,358.2 L308.8,357.5ZM268.0,358.2 L269.5,358.6 L269.3,360.6 L268.0,360.2ZM283.2,362.8 L285.0,363.0 L293.8,373.8 L292.6,374.8 L286.0,368.0ZM293.2,374.6 L301.5,376.2 L301.3,377.6 L293.0,376.2ZM296.0,365.4 L301.5,361.3 L304.2,364.0 L302.8,369.5 L298.7,370.9 L296.4,368.5ZM306.5,366.5 L309.0,366.0 L308.5,368.5 L309.7,372.5 L308.3,372.8 L307.0,369.5ZM320.7,371.5 L326.1,370.9 L331.6,375.7 L333.7,378.4 L327.5,376.3 L323.4,375.7ZM329.5,415.2 L332.0,415.2 L331.5,417.6 L330.0,417.6ZM357.0,410.8 L359.6,411.8 L358.6,414.2 L356.6,413.2ZM355.5,415.0 L357.0,416.0 L352.3,423.0 L350.8,422.0Z" fill="currentColor" stroke="currentColor" stroke-width="0.7" stroke-linejoin="round"/><path d="M311.0,352.5a0.96,0.96 0 1 0 1.9,0a0.96,0.96 0 1 0 -1.9,0ZM313.7,356.0a0.80,0.80 0 1 0 1.6,0a0.80,0.80 0 1 0 -1.6,0ZM310.5,360.5a0.96,0.96 0 1 0 1.9,0a0.96,0.96 0 1 0 -1.9,0ZM312.7,364.0a0.80,0.80 0 1 0 1.6,0a0.80,0.80 0 1 0 -1.6,0ZM315.0,368.0a0.96,0.96 0 1 0 1.9,0a0.96,0.96 0 1 0 -1.9,0ZM317.7,366.0a0.80,0.80 0 1 0 1.6,0a0.80,0.80 0 1 0 -1.6,0ZM310.9,371.5a1.12,1.12 0 1 0 2.2,0a1.12,1.12 0 1 0 -2.2,0ZM314.0,374.0a0.96,0.96 0 1 0 1.9,0a0.96,0.96 0 1 0 -1.9,0ZM304.0,378.0a0.96,0.96 0 1 0 1.9,0a0.96,0.96 0 1 0 -1.9,0ZM308.0,378.8a0.96,0.96 0 1 0 1.9,0a0.96,0.96 0 1 0 -1.9,0ZM312.2,379.5a0.80,0.80 0 1 0 1.6,0a0.80,0.80 0 1 0 -1.6,0ZM335.0,377.0a0.96,0.96 0 1 0 1.9,0a0.96,0.96 0 1 0 -1.9,0ZM338.2,379.5a0.80,0.80 0 1 0 1.6,0a0.80,0.80 0 1 0 -1.6,0ZM342.2,382.0a0.80,0.80 0 1 0 1.6,0a0.80,0.80 0 1 0 -1.6,0ZM345.2,386.0a0.80,0.80 0 1 0 1.6,0a0.80,0.80 0 1 0 -1.6,0ZM349.2,389.0a0.80,0.80 0 1 0 1.6,0a0.80,0.80 0 1 0 -1.6,0ZM339.4,370.0a0.64,0.64 0 1 0 1.3,0a0.64,0.64 0 1 0 -1.3,0ZM345.4,366.0a0.64,0.64 0 1 0 1.3,0a0.64,0.64 0 1 0 -1.3,0ZM351.4,372.0a0.64,0.64 0 1 0 1.3,0a0.64,0.64 0 1 0 -1.3,0ZM357.4,380.0a0.64,0.64 0 1 0 1.3,0a0.64,0.64 0 1 0 -1.3,0ZM361.4,388.0a0.64,0.64 0 1 0 1.3,0a0.64,0.64 0 1 0 -1.3,0ZM326.4,345.0a0.64,0.64 0 1 0 1.3,0a0.64,0.64 0 1 0 -1.3,0ZM333.4,352.0a0.64,0.64 0 1 0 1.3,0a0.64,0.64 0 1 0 -1.3,0ZM141.2,344.0a0.80,0.80 0 1 0 1.6,0a0.80,0.80 0 1 0 -1.6,0ZM132.2,348.5a0.80,0.80 0 1 0 1.6,0a0.80,0.80 0 1 0 -1.6,0ZM135.9,351.0a0.64,0.64 0 1 0 1.3,0a0.64,0.64 0 1 0 -1.3,0ZM135.1,429.6a1.12,1.12 0 1 0 2.2,0a1.12,1.12 0 1 0 -2.2,0ZM159.2,432.0a0.80,0.80 0 1 0 1.6,0a0.80,0.80 0 1 0 -1.6,0ZM245.7,388.0a0.80,0.80 0 1 0 1.6,0a0.80,0.80 0 1 0 -1.6,0ZM248.2,392.0a0.80,0.80 0 1 0 1.6,0a0.80,0.80 0 1 0 -1.6,0ZM171.4,343.0a0.64,0.64 0 1 0 1.3,0a0.64,0.64 0 1 0 -1.3,0ZM174.9,338.0a0.64,0.64 0 1 0 1.3,0a0.64,0.64 0 1 0 -1.3,0ZM167.4,322.5a0.64,0.64 0 1 0 1.3,0a0.64,0.64 0 1 0 -1.3,0ZM321.9,349.0a0.64,0.64 0 1 0 1.3,0a0.64,0.64 0 1 0 -1.3,0ZM295.7,359.5a0.80,0.80 0 1 0 1.6,0a0.80,0.80 0 1 0 -1.6,0ZM299.4,357.0a0.64,0.64 0 1 0 1.3,0a0.64,0.64 0 1 0 -1.3,0ZM19.4,352.0a0.64,0.64 0 1 0 1.3,0a0.64,0.64 0 1 0 -1.3,0ZM23.4,345.0a0.64,0.64 0 1 0 1.3,0a0.64,0.64 0 1 0 -1.3,0ZM289.2,259.5a0.80,0.80 0 1 0 1.6,0a0.80,0.80 0 1 0 -1.6,0ZM293.7,261.5a0.80,0.80 0 1 0 1.6,0a0.80,0.80 0 1 0 -1.6,0ZM323.2,268.5a0.80,0.80 0 1 0 1.6,0a0.80,0.80 0 1 0 -1.6,0ZM330.4,270.0a0.64,0.64 0 1 0 1.3,0a0.64,0.64 0 1 0 -1.3,0ZM351.4,275.0a0.64,0.64 0 1 0 1.3,0a0.64,0.64 0 1 0 -1.3,0Z" fill="currentColor" fill-opacity="0.85"/><path d="M220.5,317.0 L224.0,314.6 L228.0,315.2 L231.7,317.6 L231.2,319.4 L226.0,319.0 L221.5,319.4ZM239.0,314.2 L241.3,313.8 L242.0,317.5 L244.2,321.5 L243.6,324.5 L241.0,324.3 L240.0,320.0 L238.6,316.8ZM109.5,311.6 L113.0,312.2 L112.5,313.6 L109.8,313.0ZM113.0,313.5 L114.6,314.0 L114.4,318.2 L113.0,317.8ZM115.2,314.0 L117.2,314.6 L118.6,318.2 L117.0,317.6ZM118.0,318.6 L121.8,317.6 L122.2,318.6 L118.6,319.6ZM211.5,297.5 L214.5,294.0 L217.0,296.0 L213.5,299.3Z" fill="#fbfbfc" stroke="#fbfbfc" stroke-width="0.3" stroke-linejoin="round"/></g>
<circle cx="726" cy="60.7" r="6.1" fill="none" stroke="#2b2f9e" stroke-opacity="0.93" stroke-width="6.6"/>
<circle cx="781.4" cy="55.2" r="7.2" fill="rgba(110,150,50,0.35)" stroke="#8dbf45" stroke-opacity="0.93" stroke-width="2.2"/>
<circle cx="808.6" cy="71" r="6.2" fill="rgba(30,120,140,0.35)" stroke="#3fc0d0" stroke-opacity="0.93" stroke-width="1.6"/>
<circle cx="785.1" cy="81.4" r="3.9" fill="none" stroke="#b5202a" stroke-opacity="0.93" stroke-width="4.2"/>
<text transform="translate(705.50,71.30) scale(0.7751,1)" font-size="3.2" font-weight="bold" fill="#111">North America</text>
<text transform="translate(787.00,90.00) scale(0.5747,1)" font-size="3.2" font-weight="bold" fill="#111">Middle East and</text>
<text transform="translate(787.00,93.60) scale(0.6615,1)" font-size="3.2" font-weight="bold" fill="#111">Africa</text>
<text transform="translate(821.00,74.20) scale(0.6123,1)" font-size="3.2" font-weight="bold" fill="#111">Asia Pacific</text></g>
<g id="research"><rect x="861.5" y="28.2" width="134.5" height="24.9" fill="#a31b17"/>
<text transform="translate(867.40,46.90) scale(0.5584,1)" font-size="15.3" font-weight="bold" fill="#fdf3f0" stroke="#fdf3f0" stroke-width="0.35">RESEARCH METHODOLOGY</text>
<path d="M958.5,59.8 H984 L989,66.5 L984,73.2 H958.5 L963.5,66.5Z" fill="#f0cb52" stroke="#fdfdfd" stroke-width="0.8"/>
<path d="M928,59.8 H954.9 L959.9,66.5 L954.9,73.2 H928 L933,66.5Z" fill="#27a5e0" stroke="#fdfdfd" stroke-width="0.8"/>
<path d="M898.2,59.8 H925.1 L930.1,66.5 L925.1,73.2 H898.2 L903.2,66.5Z" fill="#d5302a" stroke="#fdfdfd" stroke-width="0.8"/>
<path d="M869.7,59.8 H895.3 L900.3,66.5 L895.3,73.2 H869.7 Q867.7,73.2 867.7,71.2 V61.8 Q867.7,59.8 869.7,59.8Z" fill="#3a3a3a" stroke="#fdfdfd" stroke-width="0.8"/>
<text transform="translate(871.90,69.30) scale(0.7932,1)" font-size="6.8" font-weight="bold" fill="#fff" fill-opacity="0.9">01</text>
<text transform="translate(905.20,69.30) scale(0.7932,1)" font-size="6.8" font-weight="bold" fill="#fff" fill-opacity="0.9">02</text>
<text transform="translate(935.00,69.30) scale(0.7932,1)" font-size="6.8" font-weight="bold" fill="#fff" fill-opacity="0.9">03</text>
<text transform="translate(964.20,69.30) scale(0.7932,1)" font-size="6.8" font-weight="bold" fill="#fff" fill-opacity="0.5">04</text>
<circle cx="891.3" cy="66.5" r="2.2" fill="none" stroke="#fff" stroke-opacity="0.9" stroke-width="1.1"/>
<path d="M918.6,69.4 L923.6,63.2 L923.9,66.8 L921.3,69.4 L920.4,68 Z" fill="#fff" fill-opacity="0.92"/>
<text transform="translate(948.30,68.30) scale(0.6923,1)" font-size="4.4" font-weight="bold" fill="#fff" fill-opacity="0.85">ABA</text>
<rect x="977.6" y="63.8" width="4.4" height="5" fill="#fff" fill-opacity="0.5"/>
<text transform="translate(869.40,80.90) scale(0.5364,1)" font-size="4.7" font-weight="bold" fill="#1a1a1a">INFORMATION</text>
<text transform="translate(869.40,86.70) scale(0.4780,1)" font-size="4.7" font-weight="bold" fill="#1a1a1a">PROCUREMENT</text>
<text transform="translate(900.30,80.90) scale(0.5364,1)" font-size="4.7" font-weight="bold" fill="#1a1a1a">INFORMATION</text>
<text transform="translate(900.30,86.70) scale(0.5744,1)" font-size="4.7" font-weight="bold" fill="#1a1a1a">INVESTIGATION</text>
<text transform="translate(929.40,80.90) scale(0.5338,1)" font-size="4.7" font-weight="bold" fill="#1a1a1a">HIGHLY AUTHENTIC</text>
<text transform="translate(929.40,86.70) scale(0.4774,1)" font-size="4.7" font-weight="bold" fill="#1a1a1a">SOURCE</text>
<text transform="translate(960.20,80.90) scale(0.4775,1)" font-size="4.7" font-weight="bold" fill="#1a1a1a">MARKET</text>
<text transform="translate(960.20,86.70) scale(0.5120,1)" font-size="4.7" font-weight="bold" fill="#1a1a1a">FORMULATION</text>
<text transform="translate(869.40,93.30) scale(0.9210,1)" font-size="2.2" fill="#a6a6a6">Lorem ipsum dolor sit amet,</text>
<text transform="translate(869.40,96.00) scale(0.8518,1)" font-size="2.2" fill="#a6a6a6">consectetur adipiscing elit sed</text>
<text transform="translate(869.40,98.70) scale(0.8699,1)" font-size="2.2" fill="#a6a6a6">do eiusmod tempor incididunt</text>
<text transform="translate(869.40,101.40) scale(0.9971,1)" font-size="2.2" fill="#a6a6a6">ut labore et dolore magna</text>
<text transform="translate(869.40,104.10) scale(1.0760,1)" font-size="2.2" fill="#a6a6a6">aliqua ut enim ad minim</text>
<text transform="translate(869.40,106.80) scale(0.9553,1)" font-size="2.2" fill="#a6a6a6">veniam quis nostrud exerci</text>
<text transform="translate(869.40,109.50) scale(1.1887,1)" font-size="2.2" fill="#a6a6a6">ullamco laboris nisi ut</text>
<text transform="translate(869.40,112.20) scale(0.3316,1)" font-size="2.2" fill="#a6a6a6">Lorem ipsum dolor sit amet,</text>
<text transform="translate(900.30,93.30) scale(0.9210,1)" font-size="2.2" fill="#7c7c7c">Lorem ipsum dolor sit amet,</text>
<text transform="translate(900.30,96.00) scale(0.8518,1)" font-size="2.2" fill="#7c7c7c">consectetur adipiscing elit sed</text>
<text transform="translate(900.30,98.70) scale(0.8699,1)" font-size="2.2" fill="#7c7c7c">do eiusmod tempor incididunt</text>
<text transform="translate(900.30,101.40) scale(0.9971,1)" font-size="2.2" fill="#7c7c7c">ut labore et dolore magna</text>
<text transform="translate(900.30,104.10) scale(1.0760,1)" font-size="2.2" fill="#7c7c7c">aliqua ut enim ad minim</text>
<text transform="translate(900.30,106.80) scale(0.9553,1)" font-size="2.2" fill="#7c7c7c">veniam quis nostrud exerci</text>
<text transform="translate(900.30,109.50) scale(1.1887,1)" font-size="2.2" fill="#7c7c7c">ullamco laboris nisi ut</text>
<text transform="translate(900.30,112.20) scale(0.9210,1)" font-size="2.2" fill="#7c7c7c">Lorem ipsum dolor sit amet,</text>
<text transform="translate(900.30,114.90) scale(0.3066,1)" font-size="2.2" fill="#7c7c7c">consectetur adipiscing elit sed</text>
<text transform="translate(929.40,92.60) scale(0.9210,1)" font-size="2.2" fill="#8c8c8c">Lorem ipsum dolor sit amet,</text>
<text transform="translate(929.40,95.30) scale(0.8518,1)" font-size="2.2" fill="#8c8c8c">consectetur adipiscing elit sed</text>
<text transform="translate(929.40,98.00) scale(0.8699,1)" font-size="2.2" fill="#8c8c8c">do eiusmod tempor incididunt</text>
<text transform="translate(929.40,100.70) scale(0.9971,1)" font-size="2.2" fill="#8c8c8c">ut labore et dolore magna</text>
<text transform="translate(929.40,103.40) scale(1.0760,1)" font-size="2.2" fill="#8c8c8c">aliqua ut enim ad minim</text>
<text transform="translate(929.40,106.10) scale(0.9553,1)" font-size="2.2" fill="#8c8c8c">veniam quis nostrud exerci</text>
<text transform="translate(929.40,108.80) scale(1.1887,1)" font-size="2.2" fill="#8c8c8c">ullamco laboris nisi ut</text>
<text transform="translate(929.40,111.50) scale(0.3316,1)" font-size="2.2" fill="#8c8c8c">Lorem ipsum dolor sit amet,</text>
<text transform="translate(960.20,92.60) scale(0.9210,1)" font-size="2.2" fill="#7e7e7e">Lorem ipsum dolor sit amet,</text>
<text transform="translate(960.20,95.30) scale(0.8518,1)" font-size="2.2" fill="#7e7e7e">consectetur adipiscing elit sed</text>
<text transform="translate(960.20,98.00) scale(0.8699,1)" font-size="2.2" fill="#7e7e7e">do eiusmod tempor incididunt</text>
<text transform="translate(960.20,100.70) scale(0.9971,1)" font-size="2.2" fill="#7e7e7e">ut labore et dolore magna</text>
<text transform="translate(960.20,103.40) scale(1.0760,1)" font-size="2.2" fill="#7e7e7e">aliqua ut enim ad minim</text>
<text transform="translate(960.20,106.10) scale(0.9553,1)" font-size="2.2" fill="#7e7e7e">veniam quis nostrud exerci</text>
<text transform="translate(960.20,108.80) scale(1.1887,1)" font-size="2.2" fill="#7e7e7e">ullamco laboris nisi ut</text>
<text transform="translate(960.20,111.50) scale(0.3316,1)" font-size="2.2" fill="#7e7e7e">Lorem ipsum dolor sit amet,</text></g>
<g id="obj"><line x1="750" y1="173.5" x2="755.8" y2="158.5" stroke="#1c5f8a" stroke-width="0.8"/>
<line x1="772" y1="192" x2="791" y2="178.5" stroke="#2fbfc8" stroke-width="0.8"/>
<line x1="777" y1="224.5" x2="792" y2="224.5" stroke="#ee5a36" stroke-width="0.8"/>
<line x1="765.2" y1="248.6" x2="778" y2="255" stroke="#8e3a9a" stroke-width="0.8"/>
<line x1="744.6" y1="257.3" x2="750" y2="278.6" stroke="#f0c238" stroke-width="0.8"/>
<path d="M732.37,174.23 A49.5,49.5 0 0 1 763.20,183.65 L745.86,207.52 A20,20 0 0 0 733.40,203.71 Z" fill="#1b6491" stroke="#fdfdfd" stroke-width="0.35"/>
<path d="M760.88,188.16 A44.5,44.5 0 0 1 776.88,211.43 L753.33,218.19 A20,20 0 0 0 746.14,207.73 Z" fill="#2fbfc8" stroke="#fdfdfd" stroke-width="0.35"/>
<path d="M772.91,214.02 A40,40 0 0 1 771.44,238.03 L752.77,230.87 A20,20 0 0 0 753.51,218.86 Z" fill="#ee5a36" stroke="#fdfdfd" stroke-width="0.35"/>
<path d="M767.24,237.77 A36,36 0 0 1 754.23,253.55 L745.28,240.28 A20,20 0 0 0 752.51,231.51 Z" fill="#8e3a9a" stroke="#fdfdfd" stroke-width="0.35"/>
<path d="M751.06,250.84 A32,32 0 0 1 732.98,255.68 L733.40,243.69 A20,20 0 0 0 744.70,240.66 Z" fill="#f0c238" stroke="#fdfdfd" stroke-width="0.35"/>
<path d="M734.10,171.40 A52.3,52.3 0 0 1 764.84,181.39" fill="none" stroke="#1b6491" stroke-width="0.7"/>
<path d="M762.57,185.92 A47.3,47.3 0 0 1 779.57,210.66" fill="none" stroke="#2fbfc8" stroke-width="0.7"/>
<path d="M775.82,213.30 A43,43 0 0 1 774.24,239.11" fill="none" stroke="#ee5a36" stroke-width="0.7"/>
<path d="M769.82,238.86 A38.8,38.8 0 0 1 755.80,255.87" fill="none" stroke="#8e3a9a" stroke-width="0.7"/>
<path d="M752.38,252.96 A34.5,34.5 0 0 1 734.10,258.20" fill="none" stroke="#f0c238" stroke-width="0.7"/>
<path d="M734.10,196.70 A27,27 0 0 1 734.10,250.70 L734.10,243.70 A20,20 0 0 0 734.10,203.70 Z" fill="#000" fill-opacity="0.12"/>
<circle cx="734.1" cy="223.7" r="23" fill="#fdfdfd"/>
<circle cx="734.1" cy="223.7" r="23" fill="#2d2a6e"/>
<text x="734.1" y="217.5" text-anchor="middle" font-size="5.6" font-weight="bold" fill="#fff">Objectives</text>
<text x="734.1" y="224.8" text-anchor="middle" font-size="5.6" font-weight="bold" fill="#fff">of Market</text>
<text x="734.1" y="232.1" text-anchor="middle" font-size="5.6" font-weight="bold" fill="#fff">Report</text>
<circle cx="757.9" cy="153.2" r="6.6" fill="#5ea6c6" fill-opacity="0.55"/>
<circle cx="757.9" cy="153.2" r="5.1" fill="#1b6491"/>
<text x="757.9" y="155.89999999999998" text-anchor="middle" font-size="7.6" fill="#0e3c5c">1</text>
<circle cx="795.9" cy="174.6" r="6.6" fill="#9fe3e6" fill-opacity="0.55"/>
<circle cx="795.9" cy="174.6" r="5.1" fill="#2fbfc8"/>
<text x="795.9" y="177.29999999999998" text-anchor="middle" font-size="7.6" fill="#333">2</text>
<circle cx="798.4" cy="224.5" r="6.6" fill="#f7b19f" fill-opacity="0.55"/>
<circle cx="798.4" cy="224.5" r="5.1" fill="#ee5a36"/>
<text x="798.4" y="227.2" text-anchor="middle" font-size="7.6" fill="#333">3</text>
<circle cx="783.2" cy="257.3" r="6.6" fill="#cf9ad6" fill-opacity="0.55"/>
<circle cx="783.2" cy="257.3" r="5.1" fill="#8e3a9a"/>
<text x="783.2" y="260.0" text-anchor="middle" font-size="7.6" fill="#333">4</text>
<circle cx="752.9" cy="284.5" r="6.6" fill="#f8e29c" fill-opacity="0.55"/>
<circle cx="752.9" cy="284.5" r="5.1" fill="#f0c238"/>
<text x="752.9" y="287.2" text-anchor="middle" font-size="7.6" fill="#333">5</text>
<text x="768.2" y="150.90" font-size="4.3" font-weight="bold" fill="#1b6491">Providing</text>
<text x="768.2" y="156.55" font-size="4.3" font-weight="bold" fill="#1b6491">recommendations</text>
<text x="768.2" y="162.20" font-size="4.3" font-weight="bold" fill="#1b6491">for strategy and</text>
<text x="768.2" y="167.85" font-size="4.3" font-weight="bold" fill="#1b6491">action</text>
<text x="798.8" y="185.40" font-size="3.7" font-weight="bold" fill="#1f9aa6">Identifying and</text>
<text x="798.8" y="190.45" font-size="3.7" font-weight="bold" fill="#1f9aa6">profiling key</text>
<text x="798.8" y="195.50" font-size="3.7" font-weight="bold" fill="#1f9aa6">competitors</text>
<text x="809.3" y="219.70" font-size="3.7" font-weight="bold" fill="#ef6645">Analysing market</text>
<text x="809.3" y="224.45" font-size="3.7" font-weight="bold" fill="#ef6645">trends and</text>
<text x="809.3" y="229.20" font-size="3.7" font-weight="bold" fill="#ef6645">opportunities</text>
<text x="794.7" y="257.50" font-size="3.7" font-weight="bold" fill="#8e3a9a">Assessing</text>
<text x="794.7" y="262.20" font-size="3.7" font-weight="bold" fill="#8e3a9a">market size</text>
<text x="794.7" y="266.90" font-size="3.7" font-weight="bold" fill="#8e3a9a">and growth</text>
<text x="763.9" y="282.50" font-size="3.7" font-weight="bold" fill="#f2d470">Identifying</text>
<text x="763.9" y="287.35" font-size="3.7" font-weight="bold" fill="#f2d470">target markets</text>
<text x="763.9" y="292.20" font-size="3.7" font-weight="bold" fill="#f2d470">and consumers</text></g>
<g id="cagr"><rect x="862.3" y="141.3" width="131.4" height="67.9" fill="#fefefe" stroke="#4a5875" stroke-width="0.75"/>
<text x="928.6" y="148.6" text-anchor="middle" style="font-family:Liberation Serif,serif" font-size="3.5" fill="#7a8fab">Market is expected to grow at a CAGR of XX%</text>
<text x="907.9" y="156.2" text-anchor="middle" font-size="2.9" font-weight="bold" fill="#3a3a3a">Cost Analysis</text>
<text x="960.5" y="156.2" text-anchor="middle" font-size="2.9" font-weight="bold" fill="#3a3a3a">Segment Analysis</text>
<line x1="876" x2="936" y1="161.5" y2="161.5" stroke="#e3e6ee" stroke-width="0.4"/>
<line x1="876" x2="936" y1="171" y2="171" stroke="#e3e6ee" stroke-width="0.4"/>
<line x1="876" x2="936" y1="180.5" y2="180.5" stroke="#e3e6ee" stroke-width="0.4"/>
<line x1="876" x2="936" y1="190.7" y2="190.7" stroke="#e3e6ee" stroke-width="0.4"/>
<rect x="878.3" y="175.4" width="5.6" height="15.3" fill="#1d4789"/>
<rect x="878.3" y="175.4" width="5.6" height="6.4" fill="#6f83c2"/>
<rect x="878.3" y="175.4" width="5.6" height="2.6" fill="#3a4060"/>
<text x="881.1" y="174.4" text-anchor="middle" font-size="2" fill="#666">XX.X</text>
<text x="881.1" y="193.6" text-anchor="middle" font-size="2" fill="#777">2018</text>
<rect x="888.4" y="172.8" width="5.6" height="17.9" fill="#1d4789"/>
<rect x="888.4" y="172.8" width="5.6" height="7.5" fill="#6f83c2"/>
<rect x="888.4" y="172.8" width="5.6" height="3.0" fill="#3a4060"/>
<text x="891.2" y="171.8" text-anchor="middle" font-size="2" fill="#666">XX.X</text>
<text x="891.2" y="193.6" text-anchor="middle" font-size="2" fill="#777">2019</text>
<rect x="898.5" y="170.8" width="5.6" height="19.9" fill="#1d4789"/>
<rect x="898.5" y="170.8" width="5.6" height="8.4" fill="#6f83c2"/>
<rect x="898.5" y="170.8" width="5.6" height="3.4" fill="#3a4060"/>
<text x="901.3" y="169.8" text-anchor="middle" font-size="2" fill="#666">XX.X</text>
<text x="901.3" y="193.6" text-anchor="middle" font-size="2" fill="#777">2020</text>
<rect x="908.6" y="168.4" width="5.6" height="22.3" fill="#1d4789"/>
<rect x="908.6" y="168.4" width="5.6" height="9.4" fill="#6f83c2"/>
<rect x="908.6" y="168.4" width="5.6" height="3.8" fill="#3a4060"/>
<text x="911.4" y="167.4" text-anchor="middle" font-size="2" fill="#666">XX.X</text>
<text x="911.4" y="193.6" text-anchor="middle" font-size="2" fill="#777">2021</text>
<rect x="918.7" y="166.4" width="5.6" height="24.3" fill="#1d4789"/>
<rect x="918.7" y="166.4" width="5.6" height="10.2" fill="#6f83c2"/>
<rect x="918.7" y="166.4" width="5.6" height="4.1" fill="#3a4060"/>
<text x="921.5" y="165.4" text-anchor="middle" font-size="2" fill="#666">XX.X</text>
<text x="921.5" y="193.6" text-anchor="middle" font-size="2" fill="#777">2022</text>
<rect x="928.8" y="162.8" width="5.6" height="27.9" fill="#1d4789"/>
<rect x="928.8" y="162.8" width="5.6" height="11.7" fill="#6f83c2"/>
<rect x="928.8" y="162.8" width="5.6" height="4.7" fill="#3a4060"/>
<text x="931.6" y="161.8" text-anchor="middle" font-size="2" fill="#666">XX.X</text>
<text x="931.6" y="193.6" text-anchor="middle" font-size="2" fill="#777">2023</text>
<path d="M960.10,164.20 A14.2,14.2 0 0 1 972.40,171.30 L965.82,175.10 A6.6,6.6 0 0 0 960.10,171.80 Z" fill="#20b79b" />
<path d="M972.40,171.30 A14.2,14.2 0 0 1 968.24,190.03 L963.89,183.81 A6.6,6.6 0 0 0 965.82,175.10 Z" fill="#1a87b2" />
<path d="M968.24,190.03 A14.2,14.2 0 0 1 953.00,190.70 L956.80,184.12 A6.6,6.6 0 0 0 963.89,183.81 Z" fill="#1d5fa0" />
<path d="M953.00,190.70 A14.2,14.2 0 0 1 960.10,164.20 L960.10,171.80 A6.6,6.6 0 0 0 956.80,184.12 Z" fill="#0c3c7c" />
<text x="976" y="161.5" font-size="2.1" fill="#444">Segment A</text>
<text x="976" y="163.8" font-size="2.1" fill="#777">XX.X%</text>
<text x="979" y="168" font-size="2.1" fill="#444">Segment B</text>
<text x="979" y="170.3" font-size="2.1" fill="#777">XX.X%</text>
<text x="979" y="188" font-size="2.1" fill="#444">Segment C</text>
<text x="979" y="190.3" font-size="2.1" fill="#777">XX.X%</text>
<text x="941" y="166" font-size="2.1" fill="#444">XX%</text>
<text x="941" y="168.3" font-size="2.1" fill="#777">XX.X%</text>
<text x="943" y="191" font-size="2.1" fill="#444">Segment D</text>
<text x="943" y="193.3" font-size="2.1" fill="#777">XX.X%</text>
<rect x="914.1" y="202" width="29.4" height="5" rx="0.6" fill="#3cb44a"/>
<text x="928.8" y="205.6" text-anchor="middle" font-size="2.6" fill="#d9f5dc">Download Sample Report</text></g>
<g id="tbl"><rect x="861.6" y="245.5" width="133.79999999999995" height="4.6" fill="#2b679f"/>
<text transform="translate(862.20,249.00) scale(0.7072,1)" font-size="2.9" font-weight="bold" fill="#fff">Company Name</text>
<text transform="translate(879.40,249.00) scale(0.8811,1)" font-size="2.9" font-weight="bold" fill="#fff">Year</text>
<text transform="translate(896.40,249.00) scale(0.7789,1)" font-size="2.9" font-weight="bold" fill="#fff">Base</text>
<text transform="translate(912.20,249.00) scale(0.8934,1)" font-size="2.9" font-weight="bold" fill="#fff">Forecast</text>
<text transform="translate(928.30,249.00) scale(0.6324,1)" font-size="2.9" font-weight="bold" fill="#fff">CAGR</text>
<text transform="translate(946.20,249.00) scale(0.9660,1)" font-size="2.9" font-weight="bold" fill="#fff">$ value</text>
<text transform="translate(963.60,249.00) scale(0.9355,1)" font-size="2.9" font-weight="bold" fill="#fff">T Value</text>
<text transform="translate(978.80,249.00) scale(0.9139,1)" font-size="2.9" font-weight="bold" fill="#fff">Status</text>
<line x1="861.6" x2="995.4" y1="250.10" y2="250.10" stroke="#d9dde3" stroke-width="0.3"/>
<line x1="861.6" x2="995.4" y1="253.78" y2="253.78" stroke="#d9dde3" stroke-width="0.3"/>
<line x1="861.6" x2="995.4" y1="257.46" y2="257.46" stroke="#d9dde3" stroke-width="0.3"/>
<line x1="861.6" x2="995.4" y1="261.14" y2="261.14" stroke="#d9dde3" stroke-width="0.3"/>
<line x1="861.6" x2="995.4" y1="264.82" y2="264.82" stroke="#d9dde3" stroke-width="0.3"/>
<line x1="861.6" x2="995.4" y1="268.50" y2="268.50" stroke="#d9dde3" stroke-width="0.3"/>
<line x1="861.6" x2="995.4" y1="272.18" y2="272.18" stroke="#d9dde3" stroke-width="0.3"/>
<line x1="861.6" x2="995.4" y1="275.86" y2="275.86" stroke="#d9dde3" stroke-width="0.3"/>
<line x1="861.6" x2="995.4" y1="279.54" y2="279.54" stroke="#d9dde3" stroke-width="0.3"/>
<line x1="861.6" x2="995.4" y1="283.22" y2="283.22" stroke="#d9dde3" stroke-width="0.3"/>
<line x1="861.6" x2="995.4" y1="286.90" y2="286.90" stroke="#d9dde3" stroke-width="0.3"/>
<line x1="861.6" x2="995.4" y1="290.58" y2="290.58" stroke="#d9dde3" stroke-width="0.3"/>
<line x1="861.6" x2="995.4" y1="294.26" y2="294.26" stroke="#d9dde3" stroke-width="0.3"/>
<line x1="861.6" x2="995.4" y1="297.94" y2="297.94" stroke="#d9dde3" stroke-width="0.3"/>
<line x1="861.6" x2="995.4" y1="301.62" y2="301.62" stroke="#d9dde3" stroke-width="0.3"/>
<line x1="861.6" x2="995.4" y1="305.30" y2="305.30" stroke="#d9dde3" stroke-width="0.3"/>
<line x1="861.6" x2="995.4" y1="308.98" y2="308.98" stroke="#d9dde3" stroke-width="0.3"/>
<line x1="861.6" x2="995.4" y1="312.66" y2="312.66" stroke="#d9dde3" stroke-width="0.3"/>
<line x1="861.6" x2="995.4" y1="316.34" y2="316.34" stroke="#d9dde3" stroke-width="0.3"/>
<line x1="861.6" x2="995.4" y1="320.02" y2="320.02" stroke="#d9dde3" stroke-width="0.3"/>
<line x1="861.6" x2="995.4" y1="323.70" y2="323.70" stroke="#d9dde3" stroke-width="0.3"/>
<line x1="861.6" x2="861.6" y1="250.1" y2="323.70" stroke="#d9dde3" stroke-width="0.3"/>
<line x1="878.8" x2="878.8" y1="250.1" y2="323.70" stroke="#d9dde3" stroke-width="0.3"/>
<line x1="895.8" x2="895.8" y1="250.1" y2="323.70" stroke="#d9dde3" stroke-width="0.3"/>
<line x1="911.6" x2="911.6" y1="250.1" y2="323.70" stroke="#d9dde3" stroke-width="0.3"/>
<line x1="927.7" x2="927.7" y1="250.1" y2="323.70" stroke="#d9dde3" stroke-width="0.3"/>
<line x1="945.6" x2="945.6" y1="250.1" y2="323.70" stroke="#d9dde3" stroke-width="0.3"/>
<line x1="963" x2="963" y1="250.1" y2="323.70" stroke="#d9dde3" stroke-width="0.3"/>
<line x1="978.2" x2="978.2" y1="250.1" y2="323.70" stroke="#d9dde3" stroke-width="0.3"/>
<line x1="995.4" x2="995.4" y1="250.1" y2="323.70" stroke="#d9dde3" stroke-width="0.3"/>
<text transform="translate(862.10,252.90) scale(0.8721,1)" font-size="2.6" fill="#5c5c5c">Company A-01</text>
<text x="887.30" y="252.90" text-anchor="middle" font-size="2.6" fill="#5c5c5c">2019</text>
<text x="903.70" y="252.90" text-anchor="middle" font-size="2.6" fill="#5c5c5c">2020</text>
<text x="919.65" y="252.90" text-anchor="middle" font-size="2.6" fill="#5c5c5c">2020-2030</text>
<text x="936.65" y="252.90" text-anchor="middle" font-size="2.6" fill="#5c5c5c">6.4</text>
<text x="954.30" y="252.90" text-anchor="middle" font-size="2.6" fill="#5c5c5c">2690.60</text>
<text x="970.60" y="252.90" text-anchor="middle" font-size="2.6" fill="#5c5c5c">72767.29</text>
<text x="986.80" y="252.90" text-anchor="middle" font-size="2.6" fill="#5c5c5c">1</text>
<text transform="translate(862.10,256.58) scale(0.8721,1)" font-size="2.6" fill="#5c5c5c">Company A-02</text>
<text x="887.30" y="256.58" text-anchor="middle" font-size="2.6" fill="#5c5c5c">2019</text>
<text x="903.70" y="256.58" text-anchor="middle" font-size="2.6" fill="#5c5c5c">2020</text>
<text x="919.65" y="256.58" text-anchor="middle" font-size="2.6" fill="#5c5c5c">2020-2030</text>
<text x="936.65" y="256.58" text-anchor="middle" font-size="2.6" fill="#5c5c5c">4.1</text>
<text x="954.30" y="256.58" text-anchor="middle" font-size="2.6" fill="#5c5c5c">1324.61</text>
<text x="970.60" y="256.58" text-anchor="middle" font-size="2.6" fill="#5c5c5c">82011.47</text>
<text x="986.80" y="256.58" text-anchor="middle" font-size="2.6" fill="#5c5c5c">1</text>
<text transform="translate(862.10,260.26) scale(0.8721,1)" font-size="2.6" fill="#5c5c5c">Company A-03</text>
<text x="887.30" y="260.26" text-anchor="middle" font-size="2.6" fill="#5c5c5c">2019</text>
<text x="903.70" y="260.26" text-anchor="middle" font-size="2.6" fill="#5c5c5c">2020</text>
<text x="919.65" y="260.26" text-anchor="middle" font-size="2.6" fill="#5c5c5c">2020-2030</text>
<text x="936.65" y="260.26" text-anchor="middle" font-size="2.6" fill="#5c5c5c">3.3</text>
<text x="954.30" y="260.26" text-anchor="middle" font-size="2.6" fill="#5c5c5c">9525.78</text>
<text x="970.60" y="260.26" text-anchor="middle" font-size="2.6" fill="#5c5c5c">57218.45</text>
<text x="986.80" y="260.26" text-anchor="middle" font-size="2.6" fill="#5c5c5c">1</text>
<text transform="translate(862.10,263.94) scale(0.8721,1)" font-size="2.6" fill="#5c5c5c">Company A-04</text>
<text x="887.30" y="263.94" text-anchor="middle" font-size="2.6" fill="#5c5c5c">2019</text>
<text x="903.70" y="263.94" text-anchor="middle" font-size="2.6" fill="#5c5c5c">2020</text>
<text x="919.65" y="263.94" text-anchor="middle" font-size="2.6" fill="#5c5c5c">2020-2030</text>
<text x="936.65" y="263.94" text-anchor="middle" font-size="2.6" fill="#5c5c5c">5.1</text>
<text x="954.30" y="263.94" text-anchor="middle" font-size="2.6" fill="#5c5c5c">5288.37</text>
<text x="970.60" y="263.94" text-anchor="middle" font-size="2.6" fill="#5c5c5c">13360.92</text>
<text x="986.80" y="263.94" text-anchor="middle" font-size="2.6" fill="#5c5c5c">1</text>
<text transform="translate(862.10,267.62) scale(0.8721,1)" font-size="2.6" fill="#5c5c5c">Company A-05</text>
<text x="887.30" y="267.62" text-anchor="middle" font-size="2.6" fill="#5c5c5c">2019</text>
<text x="903.70" y="267.62" text-anchor="middle" font-size="2.6" fill="#5c5c5c">2020</text>
<text x="919.65" y="267.62" text-anchor="middle" font-size="2.6" fill="#5c5c5c">2020-2030</text>
<text x="936.65" y="267.62" text-anchor="middle" font-size="2.6" fill="#5c5c5c">7.4</text>
<text x="954.30" y="267.62" text-anchor="middle" font-size="2.6" fill="#5c5c5c">4169.31</text>
<text x="970.60" y="267.62" text-anchor="middle" font-size="2.6" fill="#5c5c5c">50612.47</text>
<text x="986.80" y="267.62" text-anchor="middle" font-size="2.6" fill="#5c5c5c">1</text>
<text transform="translate(862.10,271.30) scale(0.8721,1)" font-size="2.6" fill="#5c5c5c">Company A-06</text>
<text x="887.30" y="271.30" text-anchor="middle" font-size="2.6" fill="#5c5c5c">2019</text>
<text x="903.70" y="271.30" text-anchor="middle" font-size="2.6" fill="#5c5c5c">2020</text>
<text x="919.65" y="271.30" text-anchor="middle" font-size="2.6" fill="#5c5c5c">2020-2030</text>
<text x="936.65" y="271.30" text-anchor="middle" font-size="2.6" fill="#5c5c5c">8.1</text>
<text x="954.30" y="271.30" text-anchor="middle" font-size="2.6" fill="#5c5c5c">6528.95</text>
<text x="970.60" y="271.30" text-anchor="middle" font-size="2.6" fill="#5c5c5c">60847.74</text>
<text x="986.80" y="271.30" text-anchor="middle" font-size="2.6" fill="#5c5c5c">1</text>
<text transform="translate(862.10,274.98) scale(0.8721,1)" font-size="2.6" fill="#5c5c5c">Company A-07</text>
<text x="887.30" y="274.98" text-anchor="middle" font-size="2.6" fill="#5c5c5c">2019</text>
<text x="903.70" y="274.98" text-anchor="middle" font-size="2.6" fill="#5c5c5c">2020</text>
<text x="919.65" y="274.98" text-anchor="middle" font-size="2.6" fill="#5c5c5c">2020-2030</text>
<text x="936.65" y="274.98" text-anchor="middle" font-size="2.6" fill="#5c5c5c">6.2</text>
<text x="954.30" y="274.98" text-anchor="middle" font-size="2.6" fill="#5c5c5c">5052.70</text>
<text x="970.60" y="274.98" text-anchor="middle" font-size="2.6" fill="#5c5c5c">46699.21</text>
<text x="986.80" y="274.98" text-anchor="middle" font-size="2.6" fill="#5c5c5c">1</text>
<text transform="translate(862.10,278.66) scale(0.8721,1)" font-size="2.6" fill="#5c5c5c">Company A-08</text>
<text x="887.30" y="278.66" text-anchor="middle" font-size="2.6" fill="#5c5c5c">2019</text>
<text x="903.70" y="278.66" text-anchor="middle" font-size="2.6" fill="#5c5c5c">2020</text>
<text x="919.65" y="278.66" text-anchor="middle" font-size="2.6" fill="#5c5c5c">2020-2030</text>
<text x="936.65" y="278.66" text-anchor="middle" font-size="2.6" fill="#5c5c5c">11.4</text>
<text x="954.30" y="278.66" text-anchor="middle" font-size="2.6" fill="#5c5c5c">1118.47</text>
<text x="970.60" y="278.66" text-anchor="middle" font-size="2.6" fill="#5c5c5c">85021.49</text>
<text x="986.80" y="278.66" text-anchor="middle" font-size="2.6" fill="#5c5c5c">1</text>
<text transform="translate(862.10,282.34) scale(0.8721,1)" font-size="2.6" fill="#5c5c5c">Company A-09</text>
<text x="887.30" y="282.34" text-anchor="middle" font-size="2.6" fill="#5c5c5c">2019</text>
<text x="903.70" y="282.34" text-anchor="middle" font-size="2.6" fill="#5c5c5c">2020</text>
<text x="919.65" y="282.34" text-anchor="middle" font-size="2.6" fill="#5c5c5c">2020-2030</text>
<text x="936.65" y="282.34" text-anchor="middle" font-size="2.6" fill="#5c5c5c">11.3</text>
<text x="954.30" y="282.34" text-anchor="middle" font-size="2.6" fill="#5c5c5c">7782.64</text>
<text x="970.60" y="282.34" text-anchor="middle" font-size="2.6" fill="#5c5c5c">88500.46</text>
<text x="986.80" y="282.34" text-anchor="middle" font-size="2.6" fill="#5c5c5c">1</text>
<text transform="translate(862.10,286.02) scale(0.8721,1)" font-size="2.6" fill="#5c5c5c">Company A-10</text>
<text x="887.30" y="286.02" text-anchor="middle" font-size="2.6" fill="#5c5c5c">2019</text>
<text x="903.70" y="286.02" text-anchor="middle" font-size="2.6" fill="#5c5c5c">2020</text>
<text x="919.65" y="286.02" text-anchor="middle" font-size="2.6" fill="#5c5c5c">2020-2030</text>
<text x="936.65" y="286.02" text-anchor="middle" font-size="2.6" fill="#5c5c5c">9.7</text>
<text x="954.30" y="286.02" text-anchor="middle" font-size="2.6" fill="#5c5c5c">3643.39</text>
<text x="970.60" y="286.02" text-anchor="middle" font-size="2.6" fill="#5c5c5c">49991.43</text>
<text x="986.80" y="286.02" text-anchor="middle" font-size="2.6" fill="#5c5c5c">1</text>
<text transform="translate(862.10,289.70) scale(0.8820,1)" font-size="2.6" fill="#5c5c5c">Company A-11</text>
<text x="887.30" y="289.70" text-anchor="middle" font-size="2.6" fill="#5c5c5c">2019</text>
<text x="903.70" y="289.70" text-anchor="middle" font-size="2.6" fill="#5c5c5c">2020</text>
<text x="919.65" y="289.70" text-anchor="middle" font-size="2.6" fill="#5c5c5c">2020-2030</text>
<text x="936.65" y="289.70" text-anchor="middle" font-size="2.6" fill="#5c5c5c">3.1</text>
<text x="954.30" y="289.70" text-anchor="middle" font-size="2.6" fill="#5c5c5c">1758.69</text>
<text x="970.60" y="289.70" text-anchor="middle" font-size="2.6" fill="#5c5c5c">92097.45</text>
<text x="986.80" y="289.70" text-anchor="middle" font-size="2.6" fill="#5c5c5c">1</text>
<text transform="translate(862.10,293.38) scale(0.8721,1)" font-size="2.6" fill="#5c5c5c">Company A-12</text>
<text x="887.30" y="293.38" text-anchor="middle" font-size="2.6" fill="#5c5c5c">2019</text>
<text x="903.70" y="293.38" text-anchor="middle" font-size="2.6" fill="#5c5c5c">2020</text>
<text x="919.65" y="293.38" text-anchor="middle" font-size="2.6" fill="#5c5c5c">2020-2030</text>
<text x="936.65" y="293.38" text-anchor="middle" font-size="2.6" fill="#5c5c5c">11.8</text>
<text x="954.30" y="293.38" text-anchor="middle" font-size="2.6" fill="#5c5c5c">8720.99</text>
<text x="970.60" y="293.38" text-anchor="middle" font-size="2.6" fill="#5c5c5c">54937.28</text>
<text x="986.80" y="293.38" text-anchor="middle" font-size="2.6" fill="#5c5c5c">1</text>
<text transform="translate(862.10,297.06) scale(0.8721,1)" font-size="2.6" fill="#5c5c5c">Company A-13</text>
<text x="887.30" y="297.06" text-anchor="middle" font-size="2.6" fill="#5c5c5c">2019</text>
<text x="903.70" y="297.06" text-anchor="middle" font-size="2.6" fill="#5c5c5c">2020</text>
<text x="919.65" y="297.06" text-anchor="middle" font-size="2.6" fill="#5c5c5c">2020-2030</text>
<text x="936.65" y="297.06" text-anchor="middle" font-size="2.6" fill="#5c5c5c">6.1</text>
<text x="954.30" y="297.06" text-anchor="middle" font-size="2.6" fill="#5c5c5c">7763.35</text>
<text x="970.60" y="297.06" text-anchor="middle" font-size="2.6" fill="#5c5c5c">93233.90</text>
<text x="986.80" y="297.06" text-anchor="middle" font-size="2.6" fill="#5c5c5c">1</text>
<text transform="translate(862.10,300.74) scale(0.8721,1)" font-size="2.6" fill="#5c5c5c">Company A-14</text>
<text x="887.30" y="300.74" text-anchor="middle" font-size="2.6" fill="#5c5c5c">2019</text>
<text x="903.70" y="300.74" text-anchor="middle" font-size="2.6" fill="#5c5c5c">2020</text>
<text x="919.65" y="300.74" text-anchor="middle" font-size="2.6" fill="#5c5c5c">2020-2030</text>
<text x="936.65" y="300.74" text-anchor="middle" font-size="2.6" fill="#5c5c5c">10.4</text>
<text x="954.30" y="300.74" text-anchor="middle" font-size="2.6" fill="#5c5c5c">4009.55</text>
<text x="970.60" y="300.74" text-anchor="middle" font-size="2.6" fill="#5c5c5c">67137.85</text>
<text x="986.80" y="300.74" text-anchor="middle" font-size="2.6" fill="#5c5c5c">1</text>
<text transform="translate(862.10,304.42) scale(0.8721,1)" font-size="2.6" fill="#5c5c5c">Company A-15</text>
<text x="887.30" y="304.42" text-anchor="middle" font-size="2.6" fill="#5c5c5c">2019</text>
<text x="903.70" y="304.42" text-anchor="middle" font-size="2.6" fill="#5c5c5c">2020</text>
<text x="919.65" y="304.42" text-anchor="middle" font-size="2.6" fill="#5c5c5c">2020-2030</text>
<text x="936.65" y="304.42" text-anchor="middle" font-size="2.6" fill="#5c5c5c">8.8</text>
<text x="954.30" y="304.42" text-anchor="middle" font-size="2.6" fill="#5c5c5c">4255.51</text>
<text x="970.60" y="304.42" text-anchor="middle" font-size="2.6" fill="#5c5c5c">23235.17</text>
<text x="986.80" y="304.42" text-anchor="middle" font-size="2.6" fill="#5c5c5c">1</text>
<text transform="translate(862.10,308.10) scale(0.8721,1)" font-size="2.6" fill="#5c5c5c">Company A-16</text>
<text x="887.30" y="308.10" text-anchor="middle" font-size="2.6" fill="#5c5c5c">2019</text>
<text x="903.70" y="308.10" text-anchor="middle" font-size="2.6" fill="#5c5c5c">2020</text>
<text x="919.65" y="308.10" text-anchor="middle" font-size="2.6" fill="#5c5c5c">2020-2030</text>
<text x="936.65" y="308.10" text-anchor="middle" font-size="2.6" fill="#5c5c5c">6.4</text>
<text x="954.30" y="308.10" text-anchor="middle" font-size="2.6" fill="#5c5c5c">4889.25</text>
<text x="970.60" y="308.10" text-anchor="middle" font-size="2.6" fill="#5c5c5c">53393.32</text>
<text x="986.80" y="308.10" text-anchor="middle" font-size="2.6" fill="#5c5c5c">1</text>
<text transform="translate(862.10,311.78) scale(0.8721,1)" font-size="2.6" fill="#5c5c5c">Company A-17</text>
<text x="887.30" y="311.78" text-anchor="middle" font-size="2.6" fill="#5c5c5c">2019</text>
<text x="903.70" y="311.78" text-anchor="middle" font-size="2.6" fill="#5c5c5c">2020</text>
<text x="919.65" y="311.78" text-anchor="middle" font-size="2.6" fill="#5c5c5c">2020-2030</text>
<text x="936.65" y="311.78" text-anchor="middle" font-size="2.6" fill="#5c5c5c">7.7</text>
<text x="954.30" y="311.78" text-anchor="middle" font-size="2.6" fill="#5c5c5c">1420.15</text>
<text x="970.60" y="311.78" text-anchor="middle" font-size="2.6" fill="#5c5c5c">56803.99</text>
<text x="986.80" y="311.78" text-anchor="middle" font-size="2.6" fill="#5c5c5c">1</text>
<text transform="translate(862.10,315.46) scale(0.8721,1)" font-size="2.6" fill="#5c5c5c">Company A-18</text>
<text x="887.30" y="315.46" text-anchor="middle" font-size="2.6" fill="#5c5c5c">2019</text>
<text x="903.70" y="315.46" text-anchor="middle" font-size="2.6" fill="#5c5c5c">2020</text>
<text x="919.65" y="315.46" text-anchor="middle" font-size="2.6" fill="#5c5c5c">2020-2030</text>
<text x="936.65" y="315.46" text-anchor="middle" font-size="2.6" fill="#5c5c5c">4.4</text>
<text x="954.30" y="315.46" text-anchor="middle" font-size="2.6" fill="#5c5c5c">6359.12</text>
<text x="970.60" y="315.46" text-anchor="middle" font-size="2.6" fill="#5c5c5c">52311.46</text>
<text x="986.80" y="315.46" text-anchor="middle" font-size="2.6" fill="#5c5c5c">1</text>
<text transform="translate(862.10,319.14) scale(0.8721,1)" font-size="2.6" fill="#5c5c5c">Company A-19</text>
<text x="887.30" y="319.14" text-anchor="middle" font-size="2.6" fill="#5c5c5c">2019</text>
<text x="903.70" y="319.14" text-anchor="middle" font-size="2.6" fill="#5c5c5c">2020</text>
<text x="919.65" y="319.14" text-anchor="middle" font-size="2.6" fill="#5c5c5c">2020-2030</text>
<text x="936.65" y="319.14" text-anchor="middle" font-size="2.6" fill="#5c5c5c">8.2</text>
<text x="954.30" y="319.14" text-anchor="middle" font-size="2.6" fill="#5c5c5c">7724.89</text>
<text x="970.60" y="319.14" text-anchor="middle" font-size="2.6" fill="#5c5c5c">99134.19</text>
<text x="986.80" y="319.14" text-anchor="middle" font-size="2.6" fill="#5c5c5c">1</text>
<text transform="translate(862.10,322.82) scale(0.8721,1)" font-size="2.6" fill="#5c5c5c">Company A-20</text>
<text x="887.30" y="322.82" text-anchor="middle" font-size="2.6" fill="#5c5c5c">2019</text>
<text x="903.70" y="322.82" text-anchor="middle" font-size="2.6" fill="#5c5c5c">2020</text>
<text x="919.65" y="322.82" text-anchor="middle" font-size="2.6" fill="#5c5c5c">2020-2030</text>
<text x="936.65" y="322.82" text-anchor="middle" font-size="2.6" fill="#5c5c5c">7.9</text>
<text x="954.30" y="322.82" text-anchor="middle" font-size="2.6" fill="#5c5c5c">4136.66</text>
<text x="970.60" y="322.82" text-anchor="middle" font-size="2.6" fill="#5c5c5c">48272.27</text>
<text x="986.80" y="322.82" text-anchor="middle" font-size="2.6" fill="#5c5c5c">1</text></g>
<g id="diff"><text x="781.4" y="321.8" text-anchor="middle" font-size="4.3" font-weight="bold" fill="#2a5ca8">How we make a difference</text>
<path d="M732.7,331.4 H753.7 V359 L740.7,372 H719.7 V344.4Z" fill="none" stroke="#c0457a" stroke-width="1.25" stroke-linejoin="round"/>
<rect x="718.2" y="327.4" width="7.5" height="9.5" fill="#fdfdfd"/>
<text transform="translate(720.60,336.00) scale(0.7953,1)" font-size="10.4" font-weight="bold" fill="#a83268">1</text>
<text x="727.1" y="346.40" font-size="4.2" font-weight="bold" fill="#c0457a">Expertise</text>
<text transform="translate(727.30,351.60) scale(0.8105,1)" font-size="2" fill="#7e7e7e">Lorem ipsum dolor sit amet,</text>
<text transform="translate(727.30,353.85) scale(0.7496,1)" font-size="2" fill="#7e7e7e">consectetur adipiscing elit sed</text>
<text transform="translate(727.30,356.10) scale(0.7655,1)" font-size="2" fill="#7e7e7e">do eiusmod tempor incididunt</text>
<text transform="translate(727.30,358.35) scale(0.8774,1)" font-size="2" fill="#7e7e7e">ut labore et dolore magna</text>
<text transform="translate(727.30,360.60) scale(0.9469,1)" font-size="2" fill="#7e7e7e">aliqua ut enim ad minim</text>
<text transform="translate(727.30,362.85) scale(0.8407,1)" font-size="2" fill="#7e7e7e">veniam quis nostrud exerci</text>
<text transform="translate(727.30,365.10) scale(0.5753,1)" font-size="2" fill="#7e7e7e">ullamco laboris nisi ut</text>
<path d="M747.1,371.8 V369.3 H748.4 V371.8 M749.3000000000001,371.8 V367.8 H751.7 V371.8Z" fill="none" stroke="#c0457a" stroke-width="0.55"/>
<path d="M778.2,331.4 H799.7 V359 L786.7,372 H765.2 V344.4Z" fill="none" stroke="#456aa6" stroke-width="1.25" stroke-linejoin="round"/>
<rect x="763.7" y="327.4" width="7.5" height="9.5" fill="#fdfdfd"/>
<text transform="translate(766.10,336.00) scale(0.7953,1)" font-size="10.4" font-weight="bold" fill="#2f5fa0">2</text>
<text x="772.6" y="346.40" font-size="4.2" font-weight="bold" fill="#456aa6">Quality data</text>
<text transform="translate(772.80,351.60) scale(0.8105,1)" font-size="2" fill="#7e7e7e">Lorem ipsum dolor sit amet,</text>
<text transform="translate(772.80,353.85) scale(0.7496,1)" font-size="2" fill="#7e7e7e">consectetur adipiscing elit sed</text>
<text transform="translate(772.80,356.10) scale(0.7655,1)" font-size="2" fill="#7e7e7e">do eiusmod tempor incididunt</text>
<text transform="translate(772.80,358.35) scale(0.8774,1)" font-size="2" fill="#7e7e7e">ut labore et dolore magna</text>
<text transform="translate(772.80,360.60) scale(0.9469,1)" font-size="2" fill="#7e7e7e">aliqua ut enim ad minim</text>
<text transform="translate(772.80,362.85) scale(0.8407,1)" font-size="2" fill="#7e7e7e">veniam quis nostrud exerci</text>
<text transform="translate(772.80,365.10) scale(0.5753,1)" font-size="2" fill="#7e7e7e">ullamco laboris nisi ut</text>
<path d="M793.1,371.8 V369.3 H794.4 V371.8 M795.3000000000001,371.8 V367.8 H797.7 V371.8Z" fill="none" stroke="#456aa6" stroke-width="0.55"/>
<path d="M820.9,331.4 H842 V359 L829,372 H807.9 V344.4Z" fill="none" stroke="#ebcd6e" stroke-width="1.25" stroke-linejoin="round"/>
<rect x="806.4" y="327.4" width="7.5" height="9.5" fill="#fdfdfd"/>
<text transform="translate(808.80,336.00) scale(0.7953,1)" font-size="10.4" font-weight="bold" fill="#e6bb2e">3</text>
<text x="815.3" y="344.20" font-size="4.2" font-weight="bold" fill="#ebcd6e">Customised</text>
<text x="815.3" y="349.80" font-size="4.2" font-weight="bold" fill="#ebcd6e">research</text>
<text transform="translate(815.50,355.00) scale(0.8105,1)" font-size="2" fill="#7e7e7e">Lorem ipsum dolor sit amet,</text>
<text transform="translate(815.50,357.25) scale(0.7496,1)" font-size="2" fill="#7e7e7e">consectetur adipiscing elit sed</text>
<text transform="translate(815.50,359.50) scale(0.7655,1)" font-size="2" fill="#7e7e7e">do eiusmod tempor incididunt</text>
<text transform="translate(815.50,361.75) scale(0.8774,1)" font-size="2" fill="#7e7e7e">ut labore et dolore magna</text>
<text transform="translate(815.50,364.00) scale(0.9469,1)" font-size="2" fill="#7e7e7e">aliqua ut enim ad minim</text>
<text transform="translate(815.50,366.25) scale(0.4624,1)" font-size="2" fill="#7e7e7e">veniam quis nostrud exerci</text>
<path d="M835.4,371.8 V369.3 H836.6999999999999 V371.8 M837.6,371.8 V367.8 H840.0 V371.8Z" fill="none" stroke="#ebcd6e" stroke-width="0.55"/>
<path d="M732.7,384.6 H753.7 V412.3 L740.7,425.3 H719.7 V397.6Z" fill="none" stroke="#c0457a" stroke-width="1.25" stroke-linejoin="round"/>
<rect x="718.2" y="380.6" width="7.5" height="9.5" fill="#fdfdfd"/>
<text transform="translate(720.60,389.20) scale(0.7953,1)" font-size="10.4" font-weight="bold" fill="#a83268">4</text>
<text x="727.1" y="397.40" font-size="4.2" font-weight="bold" fill="#c0457a">Strong</text>
<text x="727.1" y="403.00" font-size="4.2" font-weight="bold" fill="#c0457a">reputation</text>
<text transform="translate(727.30,408.20) scale(0.8105,1)" font-size="2" fill="#7e7e7e">Lorem ipsum dolor sit amet,</text>
<text transform="translate(727.30,410.45) scale(0.7496,1)" font-size="2" fill="#7e7e7e">consectetur adipiscing elit sed</text>
<text transform="translate(727.30,412.70) scale(0.7655,1)" font-size="2" fill="#7e7e7e">do eiusmod tempor incididunt</text>
<text transform="translate(727.30,414.95) scale(0.8774,1)" font-size="2" fill="#7e7e7e">ut labore et dolore magna</text>
<text transform="translate(727.30,417.20) scale(0.9469,1)" font-size="2" fill="#7e7e7e">aliqua ut enim ad minim</text>
<text transform="translate(727.30,419.45) scale(0.4624,1)" font-size="2" fill="#7e7e7e">veniam quis nostrud exerci</text>
<path d="M747.1,425.1 V422.6 H748.4 V425.1 M749.3000000000001,425.1 V421.1 H751.7 V425.1Z" fill="none" stroke="#c0457a" stroke-width="0.55"/>
<path d="M778.2,384.6 H799.7 V412.3 L786.7,425.3 H765.2 V397.6Z" fill="none" stroke="#456aa6" stroke-width="1.25" stroke-linejoin="round"/>
<rect x="763.7" y="380.6" width="7.5" height="9.5" fill="#fdfdfd"/>
<text transform="translate(766.10,389.20) scale(0.7953,1)" font-size="10.4" font-weight="bold" fill="#2f5fa0">5</text>
<text transform="translate(768.00,399.60) scale(0.9123,1)" font-size="4.2" font-weight="bold" fill="#456aa6">Professionalism</text>
<text transform="translate(772.80,404.80) scale(0.8105,1)" font-size="2" fill="#7e7e7e">Lorem ipsum dolor sit amet,</text>
<text transform="translate(772.80,407.05) scale(0.7496,1)" font-size="2" fill="#7e7e7e">consectetur adipiscing elit sed</text>
<text transform="translate(772.80,409.30) scale(0.7655,1)" font-size="2" fill="#7e7e7e">do eiusmod tempor incididunt</text>
<text transform="translate(772.80,411.55) scale(0.8774,1)" font-size="2" fill="#7e7e7e">ut labore et dolore magna</text>
<text transform="translate(772.80,413.80) scale(0.9469,1)" font-size="2" fill="#7e7e7e">aliqua ut enim ad minim</text>
<text transform="translate(772.80,416.05) scale(0.8407,1)" font-size="2" fill="#7e7e7e">veniam quis nostrud exerci</text>
<text transform="translate(772.80,418.30) scale(0.5753,1)" font-size="2" fill="#7e7e7e">ullamco laboris nisi ut</text>
<path d="M793.1,425.1 V422.6 H794.4 V425.1 M795.3000000000001,425.1 V421.1 H797.7 V425.1Z" fill="none" stroke="#456aa6" stroke-width="0.55"/>
<path d="M820.9,384.6 H842 V412.3 L829,425.3 H807.9 V397.6Z" fill="none" stroke="#ebcd6e" stroke-width="1.25" stroke-linejoin="round"/>
<rect x="806.4" y="380.6" width="7.5" height="9.5" fill="#fdfdfd"/>
<text transform="translate(808.80,389.20) scale(0.7953,1)" font-size="10.4" font-weight="bold" fill="#e6bb2e">6</text>
<text x="815.3" y="397.40" font-size="4.2" font-weight="bold" fill="#ebcd6e">Cost</text>
<text transform="translate(815.30,403.00) scale(0.9167,1)" font-size="4.2" font-weight="bold" fill="#ebcd6e">effectiveness</text>
<text transform="translate(815.50,408.20) scale(0.8105,1)" font-size="2" fill="#7e7e7e">Lorem ipsum dolor sit amet,</text>
<text transform="translate(815.50,410.45) scale(0.7496,1)" font-size="2" fill="#7e7e7e">consectetur adipiscing elit sed</text>
<text transform="translate(815.50,412.70) scale(0.7655,1)" font-size="2" fill="#7e7e7e">do eiusmod tempor incididunt</text>
<text transform="translate(815.50,414.95) scale(0.8774,1)" font-size="2" fill="#7e7e7e">ut labore et dolore magna</text>
<text transform="translate(815.50,417.20) scale(0.9469,1)" font-size="2" fill="#7e7e7e">aliqua ut enim ad minim</text>
<text transform="translate(815.50,419.45) scale(0.4624,1)" font-size="2" fill="#7e7e7e">veniam quis nostrud exerci</text>
<path d="M835.4,425.1 V422.6 H836.6999999999999 V425.1 M837.6,425.1 V421.1 H840.0 V425.1Z" fill="none" stroke="#ebcd6e" stroke-width="0.55"/></g>
<g id="ovw"><text x="929.1" y="350.2" text-anchor="middle" font-size="5.4" fill="#3f9ab6">Overview</text>
<path d="M866.5,353.1 H904.8 V357 H873 V388 L864,384 L866.5,360Z" fill="#8e9cbe"/>
<path d="M984,360 L994.4,356.5 V380 Q989,392 993.5,404 L995.6,425.2 H958 V423 H984Z" fill="#8e9cbe"/>
<rect x="873.1" y="356" width="71.5" height="41.4" fill="#f4f3ef" stroke="#e6e1d3" stroke-width="0.8"/>
<line x1="878" x2="942" y1="366.4" y2="366.4" stroke="#e4e2dc" stroke-width="0.3"/>
<line x1="878" x2="942" y1="374.3" y2="374.3" stroke="#e4e2dc" stroke-width="0.3"/>
<line x1="878" x2="942" y1="382.2" y2="382.2" stroke="#e4e2dc" stroke-width="0.3"/>
<rect x="881.10" y="387.2" width="4.9" height="2.70" fill="#2a3a7a"/>
<text x="883.55" y="393.4" text-anchor="middle" font-size="2" fill="#777">2017</text>
<rect x="889.95" y="384.1" width="4.9" height="5.80" fill="#2a3a7a"/>
<text x="892.40" y="393.4" text-anchor="middle" font-size="2" fill="#777">2018</text>
<rect x="898.80" y="380.8" width="4.9" height="9.10" fill="#2a3a7a"/>
<text x="901.25" y="393.4" text-anchor="middle" font-size="2" fill="#777">2019</text>
<rect x="907.65" y="377.7" width="4.9" height="12.20" fill="#2a3a7a"/>
<text x="910.10" y="393.4" text-anchor="middle" font-size="2" fill="#777">2020</text>
<rect x="916.50" y="374.4" width="4.9" height="15.50" fill="#2a3a7a"/>
<text x="918.95" y="393.4" text-anchor="middle" font-size="2" fill="#777">2021</text>
<rect x="925.35" y="370.8" width="4.9" height="19.10" fill="#2a3a7a"/>
<text x="927.80" y="393.4" text-anchor="middle" font-size="2" fill="#777">2022</text>
<rect x="934.20" y="367.1" width="4.9" height="22.80" fill="#2a3a7a"/>
<text x="936.65" y="393.4" text-anchor="middle" font-size="2" fill="#777">2023</text>
<text x="879.3" y="367.2" text-anchor="end" font-size="2" fill="#777">30</text>
<text x="879.3" y="375.1" text-anchor="end" font-size="2" fill="#777">20</text>
<text x="879.3" y="383.0" text-anchor="end" font-size="2" fill="#777">10</text>
<text x="879.3" y="390.9" text-anchor="end" font-size="2" fill="#777">0</text>
<text transform="translate(873.10,404.20) scale(0.9139,1)" font-size="5.4" font-weight="bold" fill="#2a3a7a">ANALYSIS</text>
<polyline points="881.5,415.5 891,413.5 900.5,414.6 910,411.4 920,411.2 929.5,410 939.3,407.2" fill="none" stroke="#a9a9b3" stroke-width="0.45"/>
<circle cx="881.5" cy="415.5" r="0.6" fill="#8a8fb0"/>
<circle cx="891" cy="413.5" r="0.6" fill="#8a8fb0"/>
<circle cx="900.5" cy="414.6" r="0.6" fill="#8a8fb0"/>
<circle cx="910" cy="411.4" r="0.6" fill="#8a8fb0"/>
<circle cx="920" cy="411.2" r="0.6" fill="#8a8fb0"/>
<circle cx="929.5" cy="410" r="0.6" fill="#8a8fb0"/>
<circle cx="939.3" cy="407.2" r="0.6" fill="#8a8fb0"/>
<line x1="877.6" x2="877.6" y1="406" y2="420.5" stroke="#bbb" stroke-width="0.3"/>
<text x="876.8" y="408.0" text-anchor="end" font-size="1.9" fill="#555">60</text>
<text x="876.8" y="410.4" text-anchor="end" font-size="1.9" fill="#555">50</text>
<text x="876.8" y="412.8" text-anchor="end" font-size="1.9" fill="#555">40</text>
<text x="876.8" y="415.2" text-anchor="end" font-size="1.9" fill="#555">30</text>
<text x="876.8" y="417.6" text-anchor="end" font-size="1.9" fill="#555">20</text>
<text x="876.8" y="420.0" text-anchor="end" font-size="1.9" fill="#555">10</text>
<text x="881.5" y="423.4" text-anchor="middle" font-size="2" fill="#777">2017</text>
<text x="891.1" y="423.4" text-anchor="middle" font-size="2" fill="#777">2018</text>
<text x="900.8" y="423.4" text-anchor="middle" font-size="2" fill="#777">2019</text>
<text x="910.4" y="423.4" text-anchor="middle" font-size="2" fill="#777">2020</text>
<text x="929.6" y="423.4" text-anchor="middle" font-size="2" fill="#777">2022</text>
<text x="939.3" y="423.4" text-anchor="middle" font-size="2" fill="#777">2023</text>
<rect x="947.9" y="356" width="37.7" height="68.6" fill="#ebebf3"/>
<text transform="translate(966.70,366.30) scale(0.9864,1)" text-anchor="middle" font-size="5.6" font-weight="bold" fill="#24356f">SEGMENTS</text>
<rect x="951.7" y="371.5" width="30.1" height="7.3" fill="#2a4a8c"/>
<text x="966.7" y="376.5" text-anchor="middle" font-size="3.9" font-weight="bold" fill="#fff">Types</text>
<rect x="951.7" y="384.8" width="30.1" height="7.3" fill="#6c70b2"/>
<text x="966.7" y="389.8" text-anchor="middle" font-size="3.9" font-weight="bold" fill="#e4e4f6">Applications</text>
<rect x="951.7" y="398" width="30.1" height="7.3" fill="#a99cd1"/>
<text x="966.7" y="403" text-anchor="middle" font-size="3.9" font-weight="bold" fill="#eeeaf8">Regions</text>
<rect x="951.7" y="411.3" width="30.1" height="7.3" fill="#c9c1e1"/>
<text x="966.7" y="416.3" text-anchor="middle" font-size="3.9" font-weight="bold" fill="#f1eef8">Others</text></g>
<path d="M0,0H1024V452H0Z M1.8,1.7V449.7H1022V1.7Z" fill="#1c2b42" fill-rule="evenodd"/>
</svg>
</body></html>
